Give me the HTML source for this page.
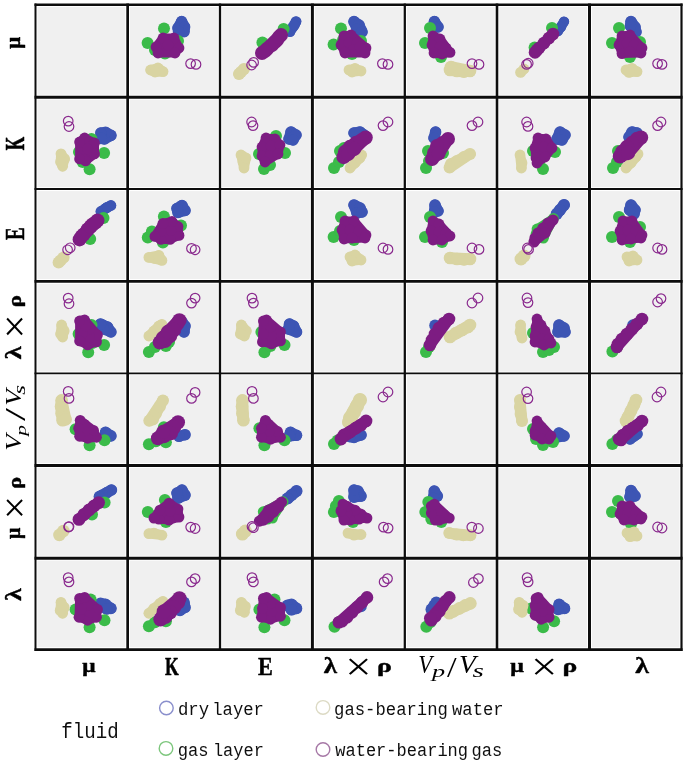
<!DOCTYPE html>
<html><head><meta charset="utf-8"><style>
html,body{margin:0;padding:0;background:#fff;overflow:hidden;}
svg{display:block;}

</style></head><body>
<svg width="685" height="762" viewBox="0 0 685 762"><defs><filter id="soft" x="0" y="0" width="100%" height="100%" filterUnits="userSpaceOnUse"><feGaussianBlur stdDeviation="0.45"/></filter></defs><g filter="url(#soft)"><rect x="0" y="0" width="685" height="762" fill="#ffffff"/>
<rect x="37.50" y="7.00" width="87.80" height="87.75" fill="#f0f0f0"/>
<rect x="130.00" y="7.00" width="87.85" height="87.75" fill="#f0f0f0"/>
<rect x="222.15" y="7.00" width="87.75" height="87.75" fill="#f0f0f0"/>
<rect x="314.90" y="7.00" width="87.75" height="87.75" fill="#f0f0f0"/>
<rect x="406.95" y="7.00" width="87.75" height="87.75" fill="#f0f0f0"/>
<rect x="499.30" y="7.00" width="87.70" height="87.75" fill="#f0f0f0"/>
<rect x="592.00" y="7.00" width="87.40" height="87.75" fill="#f0f0f0"/>
<rect x="37.50" y="99.65" width="87.80" height="87.45" fill="#f0f0f0"/>
<rect x="130.00" y="99.65" width="87.85" height="87.45" fill="#f0f0f0"/>
<rect x="222.15" y="99.65" width="87.75" height="87.45" fill="#f0f0f0"/>
<rect x="314.90" y="99.65" width="87.75" height="87.45" fill="#f0f0f0"/>
<rect x="406.95" y="99.65" width="87.75" height="87.45" fill="#f0f0f0"/>
<rect x="499.30" y="99.65" width="87.70" height="87.45" fill="#f0f0f0"/>
<rect x="592.00" y="99.65" width="87.40" height="87.45" fill="#f0f0f0"/>
<rect x="37.50" y="191.10" width="87.80" height="87.85" fill="#f0f0f0"/>
<rect x="130.00" y="191.10" width="87.85" height="87.85" fill="#f0f0f0"/>
<rect x="222.15" y="191.10" width="87.75" height="87.85" fill="#f0f0f0"/>
<rect x="314.90" y="191.10" width="87.75" height="87.85" fill="#f0f0f0"/>
<rect x="406.95" y="191.10" width="87.75" height="87.85" fill="#f0f0f0"/>
<rect x="499.30" y="191.10" width="87.70" height="87.85" fill="#f0f0f0"/>
<rect x="592.00" y="191.10" width="87.40" height="87.85" fill="#f0f0f0"/>
<rect x="37.50" y="283.85" width="87.80" height="87.70" fill="#f0f0f0"/>
<rect x="130.00" y="283.85" width="87.85" height="87.70" fill="#f0f0f0"/>
<rect x="222.15" y="283.85" width="87.75" height="87.70" fill="#f0f0f0"/>
<rect x="314.90" y="283.85" width="87.75" height="87.70" fill="#f0f0f0"/>
<rect x="406.95" y="283.85" width="87.75" height="87.70" fill="#f0f0f0"/>
<rect x="499.30" y="283.85" width="87.70" height="87.70" fill="#f0f0f0"/>
<rect x="592.00" y="283.85" width="87.40" height="87.70" fill="#f0f0f0"/>
<rect x="37.50" y="375.25" width="87.80" height="87.85" fill="#f0f0f0"/>
<rect x="130.00" y="375.25" width="87.85" height="87.85" fill="#f0f0f0"/>
<rect x="222.15" y="375.25" width="87.75" height="87.85" fill="#f0f0f0"/>
<rect x="314.90" y="375.25" width="87.75" height="87.85" fill="#f0f0f0"/>
<rect x="406.95" y="375.25" width="87.75" height="87.85" fill="#f0f0f0"/>
<rect x="499.30" y="375.25" width="87.70" height="87.85" fill="#f0f0f0"/>
<rect x="592.00" y="375.25" width="87.40" height="87.85" fill="#f0f0f0"/>
<rect x="37.50" y="467.90" width="87.80" height="87.85" fill="#f0f0f0"/>
<rect x="130.00" y="467.90" width="87.85" height="87.85" fill="#f0f0f0"/>
<rect x="222.15" y="467.90" width="87.75" height="87.85" fill="#f0f0f0"/>
<rect x="314.90" y="467.90" width="87.75" height="87.85" fill="#f0f0f0"/>
<rect x="406.95" y="467.90" width="87.75" height="87.85" fill="#f0f0f0"/>
<rect x="499.30" y="467.90" width="87.70" height="87.85" fill="#f0f0f0"/>
<rect x="592.00" y="467.90" width="87.40" height="87.85" fill="#f0f0f0"/>
<rect x="37.50" y="560.65" width="87.80" height="86.50" fill="#f0f0f0"/>
<rect x="130.00" y="560.65" width="87.85" height="86.50" fill="#f0f0f0"/>
<rect x="222.15" y="560.65" width="87.75" height="86.50" fill="#f0f0f0"/>
<rect x="314.90" y="560.65" width="87.75" height="86.50" fill="#f0f0f0"/>
<rect x="406.95" y="560.65" width="87.75" height="86.50" fill="#f0f0f0"/>
<rect x="499.30" y="560.65" width="87.70" height="86.50" fill="#f0f0f0"/>
<rect x="592.00" y="560.65" width="87.40" height="86.50" fill="#f0f0f0"/>
<defs>
<clipPath id="c01"><rect x="127.7" y="4.8" width="92.3" height="92.4"/></clipPath>
<clipPath id="c02"><rect x="220.0" y="4.8" width="92.4" height="92.4"/></clipPath>
<clipPath id="c03"><rect x="312.4" y="4.8" width="92.4" height="92.4"/></clipPath>
<clipPath id="c04"><rect x="404.8" y="4.8" width="92.2" height="92.4"/></clipPath>
<clipPath id="c05"><rect x="497.0" y="4.8" width="92.5" height="92.4"/></clipPath>
<clipPath id="c06"><rect x="589.5" y="4.8" width="92.0" height="92.4"/></clipPath>
<clipPath id="c10"><rect x="35.5" y="97.2" width="92.2" height="91.9"/></clipPath>
<clipPath id="c12"><rect x="220.0" y="97.2" width="92.4" height="91.9"/></clipPath>
<clipPath id="c13"><rect x="312.4" y="97.2" width="92.4" height="91.9"/></clipPath>
<clipPath id="c14"><rect x="404.8" y="97.2" width="92.2" height="91.9"/></clipPath>
<clipPath id="c15"><rect x="497.0" y="97.2" width="92.5" height="91.9"/></clipPath>
<clipPath id="c16"><rect x="589.5" y="97.2" width="92.0" height="91.9"/></clipPath>
<clipPath id="c20"><rect x="35.5" y="189.1" width="92.2" height="92.3"/></clipPath>
<clipPath id="c21"><rect x="127.7" y="189.1" width="92.3" height="92.3"/></clipPath>
<clipPath id="c23"><rect x="312.4" y="189.1" width="92.4" height="92.3"/></clipPath>
<clipPath id="c24"><rect x="404.8" y="189.1" width="92.2" height="92.3"/></clipPath>
<clipPath id="c25"><rect x="497.0" y="189.1" width="92.5" height="92.3"/></clipPath>
<clipPath id="c26"><rect x="589.5" y="189.1" width="92.0" height="92.3"/></clipPath>
<clipPath id="c30"><rect x="35.5" y="281.4" width="92.2" height="92.0"/></clipPath>
<clipPath id="c31"><rect x="127.7" y="281.4" width="92.3" height="92.0"/></clipPath>
<clipPath id="c32"><rect x="220.0" y="281.4" width="92.4" height="92.0"/></clipPath>
<clipPath id="c34"><rect x="404.8" y="281.4" width="92.2" height="92.0"/></clipPath>
<clipPath id="c35"><rect x="497.0" y="281.4" width="92.5" height="92.0"/></clipPath>
<clipPath id="c36"><rect x="589.5" y="281.4" width="92.0" height="92.0"/></clipPath>
<clipPath id="c40"><rect x="35.5" y="373.4" width="92.2" height="92.1"/></clipPath>
<clipPath id="c41"><rect x="127.7" y="373.4" width="92.3" height="92.1"/></clipPath>
<clipPath id="c42"><rect x="220.0" y="373.4" width="92.4" height="92.1"/></clipPath>
<clipPath id="c43"><rect x="312.4" y="373.4" width="92.4" height="92.1"/></clipPath>
<clipPath id="c45"><rect x="497.0" y="373.4" width="92.5" height="92.1"/></clipPath>
<clipPath id="c46"><rect x="589.5" y="373.4" width="92.0" height="92.1"/></clipPath>
<clipPath id="c50"><rect x="35.5" y="465.5" width="92.2" height="92.7"/></clipPath>
<clipPath id="c51"><rect x="127.7" y="465.5" width="92.3" height="92.7"/></clipPath>
<clipPath id="c52"><rect x="220.0" y="465.5" width="92.4" height="92.7"/></clipPath>
<clipPath id="c53"><rect x="312.4" y="465.5" width="92.4" height="92.7"/></clipPath>
<clipPath id="c54"><rect x="404.8" y="465.5" width="92.2" height="92.7"/></clipPath>
<clipPath id="c56"><rect x="589.5" y="465.5" width="92.0" height="92.7"/></clipPath>
<clipPath id="c60"><rect x="35.5" y="558.2" width="92.2" height="91.4"/></clipPath>
<clipPath id="c61"><rect x="127.7" y="558.2" width="92.3" height="91.4"/></clipPath>
<clipPath id="c62"><rect x="220.0" y="558.2" width="92.4" height="91.4"/></clipPath>
<clipPath id="c63"><rect x="312.4" y="558.2" width="92.4" height="91.4"/></clipPath>
<clipPath id="c64"><rect x="404.8" y="558.2" width="92.2" height="91.4"/></clipPath>
<clipPath id="c65"><rect x="497.0" y="558.2" width="92.5" height="91.4"/></clipPath>
</defs>
<g clip-path="url(#c01)">
<g fill="#3c55b4"><path d="M178.0,28.0 L181.6,21.6 L184.6,27.0 L184.0,31.6 L178.6,31.6 Z" stroke="#3c55b4" stroke-width="11.00" stroke-linejoin="round" stroke-linecap="round"/><circle cx="181.6" cy="21.6" r="5.8"/><circle cx="178.0" cy="28.0" r="5.8"/><circle cx="184.6" cy="27.0" r="5.8"/><circle cx="184.0" cy="31.6" r="5.8"/><circle cx="178.6" cy="31.6" r="5.8"/></g>
<circle cx="164.0" cy="28.4" r="6.0" fill="#3abb4a"/><circle cx="147.6" cy="43.0" r="6.0" fill="#3abb4a"/><circle cx="165.0" cy="53.6" r="6.0" fill="#3abb4a"/><circle cx="178.0" cy="41.0" r="6.0" fill="#3abb4a"/><circle cx="163.0" cy="42.0" r="6.0" fill="#3abb4a"/><circle cx="155.0" cy="50.0" r="6.0" fill="#3abb4a"/>
<g fill="#d9d4a2"><path d="M150.6,70.0 L158.0,68.0 L163.0,71.6 L155.0,72.0 Z" stroke="#d9d4a2" stroke-width="9.80" stroke-linejoin="round" stroke-linecap="round"/><circle cx="150.6" cy="70.0" r="5.4"/><circle cx="158.0" cy="68.0" r="5.4"/><circle cx="163.0" cy="71.6" r="5.4"/><circle cx="155.0" cy="72.0" r="5.4"/></g>
<g fill="#7d1e82"><path d="M156.0,47.0 L163.0,38.0 L174.0,38.0 L179.0,48.0 L175.0,53.0 L158.0,53.0 Z" stroke="#7d1e82" stroke-width="9.00" stroke-linejoin="round" stroke-linecap="round"/><circle cx="163.0" cy="38.0" r="5.4"/><circle cx="174.0" cy="38.0" r="5.4"/><circle cx="156.0" cy="47.0" r="5.4"/><circle cx="168.0" cy="45.0" r="5.4"/><circle cx="179.0" cy="48.0" r="5.4"/><circle cx="158.0" cy="53.0" r="5.4"/><circle cx="175.0" cy="53.0" r="5.4"/></g>
<g fill="none" stroke="#8a2a8e" stroke-width="1.2"><circle cx="190.6" cy="63.6" r="4.8"/><circle cx="196.0" cy="64.4" r="4.8"/></g>
</g>
<g clip-path="url(#c02)">
<g fill="#3c55b4"><path d="M290.0,31.6 L296.0,21.6 L294.4,25.0 Z" stroke="#3c55b4" stroke-width="10.20" stroke-linejoin="round" stroke-linecap="round"/><circle cx="296.0" cy="21.6" r="5.4"/><circle cx="293.0" cy="27.0" r="5.4"/><circle cx="290.0" cy="31.6" r="5.4"/><circle cx="294.4" cy="25.0" r="5.4"/></g>
<circle cx="283.6" cy="29.0" r="6.0" fill="#3abb4a"/><circle cx="262.4" cy="42.4" r="6.0" fill="#3abb4a"/>
<g fill="#d9d4a2"><path d="M239.0,74.0 L244.0,69.0" stroke="#d9d4a2" stroke-width="11.00" stroke-linejoin="round" stroke-linecap="round"/><circle cx="241.0" cy="72.0" r="6.0"/><circle cx="244.0" cy="69.0" r="6.0"/><circle cx="239.0" cy="74.0" r="6.0"/></g>
<g fill="#7d1e82"><path d="M262.0,53.0 L281.0,35.0 L277.0,40.0 L272.0,45.0 L265.0,51.0 Z" stroke="#7d1e82" stroke-width="12.20" stroke-linejoin="round" stroke-linecap="round"/><circle cx="262.0" cy="53.0" r="7.0"/><circle cx="267.0" cy="49.0" r="7.0"/><circle cx="272.0" cy="45.0" r="7.0"/><circle cx="277.0" cy="40.0" r="7.0"/><circle cx="281.0" cy="35.0" r="7.0"/><circle cx="265.0" cy="51.0" r="7.0"/><circle cx="275.0" cy="42.0" r="7.0"/><circle cx="279.0" cy="37.0" r="7.0"/></g>
<g fill="none" stroke="#8a2a8e" stroke-width="1.2"><circle cx="251.6" cy="65.0" r="4.8"/><circle cx="253.6" cy="62.4" r="4.8"/></g>
</g>
<g clip-path="url(#c03)">
<g fill="#3c55b4"><path d="M354.0,21.6 L359.0,25.0 L362.0,32.0 L357.0,29.0 Z" stroke="#3c55b4" stroke-width="11.00" stroke-linejoin="round" stroke-linecap="round"/><circle cx="354.0" cy="21.6" r="5.8"/><circle cx="359.0" cy="25.0" r="5.8"/><circle cx="361.0" cy="30.0" r="5.8"/><circle cx="357.0" cy="29.0" r="5.8"/><circle cx="362.0" cy="32.0" r="5.8"/></g>
<circle cx="341.0" cy="28.4" r="6.0" fill="#3abb4a"/><circle cx="333.6" cy="44.4" r="6.0" fill="#3abb4a"/><circle cx="352.0" cy="54.0" r="6.0" fill="#3abb4a"/><circle cx="343.0" cy="40.0" r="6.0" fill="#3abb4a"/><circle cx="361.0" cy="41.0" r="6.0" fill="#3abb4a"/>
<g fill="#d9d4a2"><path d="M349.0,70.0 L355.0,68.4 L361.0,71.0 L352.0,72.0 Z" stroke="#d9d4a2" stroke-width="9.80" stroke-linejoin="round" stroke-linecap="round"/><circle cx="349.0" cy="70.0" r="5.4"/><circle cx="355.0" cy="68.4" r="5.4"/><circle cx="361.0" cy="71.0" r="5.4"/><circle cx="352.0" cy="72.0" r="5.4"/></g>
<g fill="#7d1e82"><path d="M341.0,45.0 L344.0,36.0 L351.0,35.0 L366.0,48.0 L365.0,53.0 L345.0,53.0 Z" stroke="#7d1e82" stroke-width="9.00" stroke-linejoin="round" stroke-linecap="round"/><circle cx="344.0" cy="36.0" r="5.4"/><circle cx="351.0" cy="35.0" r="5.4"/><circle cx="341.0" cy="45.0" r="5.4"/><circle cx="349.0" cy="43.0" r="5.4"/><circle cx="357.0" cy="43.0" r="5.4"/><circle cx="345.0" cy="52.0" r="5.4"/><circle cx="353.0" cy="50.0" r="5.4"/><circle cx="365.0" cy="51.0" r="5.4"/><circle cx="366.0" cy="48.0" r="5.4"/><circle cx="360.0" cy="47.0" r="5.4"/><circle cx="365.0" cy="53.0" r="5.4"/><circle cx="345.0" cy="53.0" r="5.4"/></g>
<g fill="none" stroke="#8a2a8e" stroke-width="1.2"><circle cx="382.4" cy="63.6" r="4.8"/><circle cx="388.0" cy="64.4" r="4.8"/></g>
</g>
<g clip-path="url(#c04)">
<g fill="#3c55b4"><path d="M434.4,21.6 L438.0,27.0 L434.4,27.0 Z" stroke="#3c55b4" stroke-width="11.00" stroke-linejoin="round" stroke-linecap="round"/><circle cx="434.4" cy="21.6" r="5.8"/><circle cx="438.0" cy="27.0" r="5.8"/><circle cx="434.4" cy="27.0" r="5.8"/></g>
<circle cx="430.0" cy="28.0" r="6.0" fill="#3abb4a"/><circle cx="425.0" cy="43.0" r="6.0" fill="#3abb4a"/><circle cx="441.0" cy="57.0" r="6.0" fill="#3abb4a"/>
<g fill="#d9d4a2"><path d="M450.0,70.0 L451.0,67.0 L470.0,71.0 L464.0,71.6 L457.0,71.0 Z" stroke="#d9d4a2" stroke-width="11.60" stroke-linejoin="round" stroke-linecap="round"/><circle cx="450.0" cy="70.0" r="6.3"/><circle cx="457.0" cy="71.0" r="6.3"/><circle cx="464.0" cy="71.6" r="6.3"/><circle cx="470.0" cy="71.0" r="6.3"/><circle cx="451.0" cy="67.0" r="6.3"/></g>
<g fill="#7d1e82"><path d="M432.0,45.0 L433.0,36.0 L440.0,39.0 L450.0,52.4 L442.0,54.0 L434.0,53.0 Z" stroke="#7d1e82" stroke-width="9.00" stroke-linejoin="round" stroke-linecap="round"/><circle cx="433.0" cy="36.0" r="5.4"/><circle cx="440.0" cy="39.0" r="5.4"/><circle cx="432.0" cy="45.0" r="5.4"/><circle cx="440.0" cy="47.0" r="5.4"/><circle cx="446.0" cy="48.0" r="5.4"/><circle cx="450.0" cy="52.4" r="5.4"/><circle cx="434.0" cy="53.0" r="5.4"/><circle cx="442.0" cy="54.0" r="5.4"/></g>
<g fill="none" stroke="#8a2a8e" stroke-width="1.2"><circle cx="472.0" cy="63.6" r="4.8"/><circle cx="479.0" cy="64.4" r="4.8"/></g>
</g>
<g clip-path="url(#c05)">
<g fill="#3c55b4"><path d="M558.0,31.0 L564.0,21.6 L561.0,27.0 Z" stroke="#3c55b4" stroke-width="9.80" stroke-linejoin="round" stroke-linecap="round"/><circle cx="564.0" cy="21.6" r="5.2"/><circle cx="561.0" cy="27.0" r="5.2"/><circle cx="558.0" cy="31.0" r="5.2"/></g>
<circle cx="552.0" cy="28.0" r="6.0" fill="#3abb4a"/><circle cx="534.6" cy="47.6" r="6.0" fill="#3abb4a"/>
<g fill="#d9d4a2"><path d="M520.6,72.4 L524.0,69.0" stroke="#d9d4a2" stroke-width="9.80" stroke-linejoin="round" stroke-linecap="round"/><circle cx="520.6" cy="72.4" r="5.4"/><circle cx="524.0" cy="69.0" r="5.4"/></g>
<g fill="#7d1e82"><path d="M535.0,52.4 L537.0,50.0 L553.0,34.0 Z" stroke="#7d1e82" stroke-width="10.80" stroke-linejoin="round" stroke-linecap="round"/><circle cx="535.0" cy="52.4" r="6.3"/><circle cx="539.0" cy="48.0" r="6.3"/><circle cx="544.0" cy="43.0" r="6.3"/><circle cx="549.0" cy="38.0" r="6.3"/><circle cx="553.0" cy="34.0" r="6.3"/><circle cx="537.0" cy="50.0" r="6.3"/></g>
<g fill="none" stroke="#8a2a8e" stroke-width="1.2"><circle cx="526.6" cy="64.4" r="4.8"/><circle cx="528.2" cy="63.2" r="4.8"/></g>
</g>
<g clip-path="url(#c06)">
<g fill="#3c55b4"><path d="M630.4,26.0 L631.0,21.6 L635.0,27.0 L636.0,32.0 Z" stroke="#3c55b4" stroke-width="11.00" stroke-linejoin="round" stroke-linecap="round"/><circle cx="631.0" cy="21.6" r="5.8"/><circle cx="635.0" cy="27.0" r="5.8"/><circle cx="636.0" cy="32.0" r="5.8"/><circle cx="630.4" cy="26.0" r="5.8"/></g>
<circle cx="619.0" cy="28.0" r="6.0" fill="#3abb4a"/><circle cx="612.0" cy="43.0" r="6.0" fill="#3abb4a"/><circle cx="630.0" cy="57.0" r="6.0" fill="#3abb4a"/><circle cx="640.0" cy="42.0" r="6.0" fill="#3abb4a"/>
<g fill="#d9d4a2"><path d="M626.0,70.0 L632.0,68.4 L637.0,71.6 L629.0,72.4 Z" stroke="#d9d4a2" stroke-width="9.80" stroke-linejoin="round" stroke-linecap="round"/><circle cx="626.0" cy="70.0" r="5.4"/><circle cx="632.0" cy="68.4" r="5.4"/><circle cx="637.0" cy="71.6" r="5.4"/><circle cx="629.0" cy="72.4" r="5.4"/></g>
<g fill="#7d1e82"><path d="M619.0,45.0 L622.0,36.0 L630.0,35.0 L642.0,48.0 L641.0,53.0 L622.0,53.6 Z" stroke="#7d1e82" stroke-width="9.00" stroke-linejoin="round" stroke-linecap="round"/><circle cx="622.0" cy="36.0" r="5.4"/><circle cx="630.0" cy="35.0" r="5.4"/><circle cx="619.0" cy="45.0" r="5.4"/><circle cx="627.0" cy="43.0" r="5.4"/><circle cx="634.0" cy="45.0" r="5.4"/><circle cx="622.0" cy="53.6" r="5.4"/><circle cx="630.0" cy="51.6" r="5.4"/><circle cx="641.0" cy="53.0" r="5.4"/><circle cx="642.0" cy="48.0" r="5.4"/></g>
<g fill="none" stroke="#8a2a8e" stroke-width="1.2"><circle cx="657.6" cy="63.6" r="4.8"/><circle cx="662.0" cy="64.4" r="4.8"/></g>
</g>
<g clip-path="url(#c10)">
<g fill="#3c55b4"><path d="M100.9,133.0 L105.5,132.4 L110.9,135.4 L104.5,139.0 L100.9,138.4 Z" stroke="#3c55b4" stroke-width="11.00" stroke-linejoin="round" stroke-linecap="round"/><circle cx="110.9" cy="135.4" r="5.8"/><circle cx="104.5" cy="139.0" r="5.8"/><circle cx="105.5" cy="132.4" r="5.8"/><circle cx="100.9" cy="133.0" r="5.8"/><circle cx="100.9" cy="138.4" r="5.8"/></g>
<circle cx="104.1" cy="152.9" r="6.0" fill="#3abb4a"/><circle cx="89.6" cy="169.2" r="6.0" fill="#3abb4a"/><circle cx="79.0" cy="151.9" r="6.0" fill="#3abb4a"/><circle cx="91.5" cy="139.0" r="6.0" fill="#3abb4a"/><circle cx="90.6" cy="153.9" r="6.0" fill="#3abb4a"/><circle cx="82.6" cy="161.9" r="6.0" fill="#3abb4a"/>
<g fill="#d9d4a2"><path d="M60.6,161.9 L61.0,153.9 L64.6,158.9 L62.6,166.3 Z" stroke="#d9d4a2" stroke-width="9.80" stroke-linejoin="round" stroke-linecap="round"/><circle cx="62.6" cy="166.3" r="5.4"/><circle cx="64.6" cy="158.9" r="5.4"/><circle cx="61.0" cy="153.9" r="5.4"/><circle cx="60.6" cy="161.9" r="5.4"/></g>
<g fill="#7d1e82"><path d="M79.6,142.0 L84.6,138.0 L94.5,143.0 L94.5,153.9 L85.6,160.9 L79.6,158.9 Z" stroke="#7d1e82" stroke-width="9.00" stroke-linejoin="round" stroke-linecap="round"/><circle cx="94.5" cy="153.9" r="5.4"/><circle cx="94.5" cy="143.0" r="5.4"/><circle cx="85.6" cy="160.9" r="5.4"/><circle cx="87.6" cy="148.9" r="5.4"/><circle cx="84.6" cy="138.0" r="5.4"/><circle cx="79.6" cy="158.9" r="5.4"/><circle cx="79.6" cy="142.0" r="5.4"/></g>
<g fill="none" stroke="#8a2a8e" stroke-width="1.2"><circle cx="69.0" cy="126.5" r="4.8"/><circle cx="68.2" cy="121.1" r="4.8"/></g>
</g>
<g clip-path="url(#c12)">
<g fill="#3c55b4"><path d="M289.0,139.0 L291.0,132.0 L296.0,135.0 L293.0,140.0 Z" stroke="#3c55b4" stroke-width="11.00" stroke-linejoin="round" stroke-linecap="round"/><circle cx="291.0" cy="132.0" r="5.8"/><circle cx="296.0" cy="135.0" r="5.8"/><circle cx="289.0" cy="139.0" r="5.8"/><circle cx="293.0" cy="140.0" r="5.8"/></g>
<circle cx="285.0" cy="153.0" r="6.0" fill="#3abb4a"/><circle cx="264.0" cy="169.0" r="6.0" fill="#3abb4a"/><circle cx="259.0" cy="154.0" r="6.0" fill="#3abb4a"/><circle cx="270.0" cy="165.0" r="6.0" fill="#3abb4a"/><circle cx="276.0" cy="136.0" r="6.0" fill="#3abb4a"/>
<g fill="#d9d4a2"><path d="M241.0,155.0 L246.0,158.0 L244.0,168.0 Z" stroke="#d9d4a2" stroke-width="9.80" stroke-linejoin="round" stroke-linecap="round"/><circle cx="241.0" cy="155.0" r="5.4"/><circle cx="243.0" cy="162.0" r="5.4"/><circle cx="244.0" cy="168.0" r="5.4"/><circle cx="246.0" cy="158.0" r="5.4"/></g>
<g fill="#7d1e82"><path d="M262.0,147.0 L266.0,138.0 L275.0,139.0 L280.0,145.0 L278.0,154.0 L265.0,162.0 L262.0,156.0 Z" stroke="#7d1e82" stroke-width="9.00" stroke-linejoin="round" stroke-linecap="round"/><circle cx="266.0" cy="138.0" r="5.4"/><circle cx="275.0" cy="139.0" r="5.4"/><circle cx="262.0" cy="147.0" r="5.4"/><circle cx="271.0" cy="146.0" r="5.4"/><circle cx="280.0" cy="145.0" r="5.4"/><circle cx="262.0" cy="156.0" r="5.4"/><circle cx="270.0" cy="156.0" r="5.4"/><circle cx="278.0" cy="154.0" r="5.4"/><circle cx="265.0" cy="162.0" r="5.4"/></g>
<g fill="none" stroke="#8a2a8e" stroke-width="1.2"><circle cx="251.6" cy="122.0" r="4.8"/><circle cx="253.0" cy="125.6" r="4.8"/></g>
</g>
<g clip-path="url(#c13)">
<g fill="#3c55b4"><path d="M354.0,133.0 L360.0,132.0 L364.0,135.0 Z" stroke="#3c55b4" stroke-width="11.00" stroke-linejoin="round" stroke-linecap="round"/><circle cx="354.0" cy="133.0" r="5.8"/><circle cx="360.0" cy="132.0" r="5.8"/><circle cx="364.0" cy="135.0" r="5.8"/></g>
<circle cx="334.0" cy="168.0" r="6.0" fill="#3abb4a"/><circle cx="339.0" cy="162.0" r="6.0" fill="#3abb4a"/><circle cx="340.0" cy="151.0" r="6.0" fill="#3abb4a"/><circle cx="344.0" cy="148.0" r="6.0" fill="#3abb4a"/>
<g fill="#d9d4a2"><path d="M350.0,168.0 L361.6,155.0 L360.0,158.0 Z" stroke="#d9d4a2" stroke-width="9.80" stroke-linejoin="round" stroke-linecap="round"/><circle cx="350.0" cy="168.0" r="5.4"/><circle cx="355.0" cy="163.0" r="5.4"/><circle cx="360.0" cy="158.0" r="5.4"/><circle cx="361.6" cy="155.0" r="5.4"/></g>
<g fill="#7d1e82"><path d="M343.6,157.0 L345.0,152.0 L350.0,147.0 L356.0,143.0 L365.6,137.6 L354.0,149.0 L348.0,154.0 Z" stroke="#7d1e82" stroke-width="12.60" stroke-linejoin="round" stroke-linecap="round"/><circle cx="365.6" cy="137.6" r="7.2"/><circle cx="362.0" cy="140.0" r="7.2"/><circle cx="356.0" cy="143.0" r="7.2"/><circle cx="350.0" cy="147.0" r="7.2"/><circle cx="345.0" cy="152.0" r="7.2"/><circle cx="343.6" cy="157.0" r="7.2"/><circle cx="348.0" cy="154.0" r="7.2"/><circle cx="354.0" cy="149.0" r="7.2"/></g>
<g fill="none" stroke="#8a2a8e" stroke-width="1.2"><circle cx="383.0" cy="125.6" r="4.8"/><circle cx="388.0" cy="122.0" r="4.8"/></g>
</g>
<g clip-path="url(#c14)">
<g fill="#3c55b4"><path d="M434.0,138.0 L435.6,132.0" stroke="#3c55b4" stroke-width="11.00" stroke-linejoin="round" stroke-linecap="round"/><circle cx="435.6" cy="132.0" r="5.8"/><circle cx="434.0" cy="138.0" r="5.8"/></g>
<circle cx="426.0" cy="168.0" r="6.0" fill="#3abb4a"/><circle cx="429.0" cy="161.0" r="6.0" fill="#3abb4a"/><circle cx="428.0" cy="151.0" r="6.0" fill="#3abb4a"/><circle cx="443.0" cy="153.0" r="6.0" fill="#3abb4a"/>
<g fill="#d9d4a2"><path d="M449.6,167.6 L451.0,164.0 L464.0,157.0 L470.0,154.0 Z" stroke="#d9d4a2" stroke-width="11.00" stroke-linejoin="round" stroke-linecap="round"/><circle cx="451.0" cy="164.0" r="6.0"/><circle cx="457.0" cy="161.0" r="6.0"/><circle cx="464.0" cy="157.0" r="6.0"/><circle cx="470.0" cy="154.0" r="6.0"/><circle cx="449.6" cy="167.6" r="6.0"/></g>
<g fill="#7d1e82"><path d="M432.0,159.0 L434.0,153.0 L437.0,146.0 L448.0,139.0 L438.6,153.6 Z" stroke="#7d1e82" stroke-width="12.20" stroke-linejoin="round" stroke-linecap="round"/><circle cx="448.0" cy="139.0" r="7.0"/><circle cx="443.0" cy="143.0" r="7.0"/><circle cx="437.0" cy="146.0" r="7.0"/><circle cx="434.0" cy="153.0" r="7.0"/><circle cx="432.0" cy="159.0" r="7.0"/><circle cx="438.6" cy="153.6" r="7.0"/></g>
<g fill="none" stroke="#8a2a8e" stroke-width="1.2"><circle cx="472.0" cy="125.6" r="4.8"/><circle cx="478.0" cy="122.0" r="4.8"/></g>
</g>
<g clip-path="url(#c15)">
<g fill="#3c55b4"><path d="M557.0,139.0 L560.0,132.0 L565.0,135.0 L562.0,140.0 Z" stroke="#3c55b4" stroke-width="11.00" stroke-linejoin="round" stroke-linecap="round"/><circle cx="560.0" cy="132.0" r="5.8"/><circle cx="565.0" cy="135.0" r="5.8"/><circle cx="557.0" cy="139.0" r="5.8"/><circle cx="562.0" cy="140.0" r="5.8"/></g>
<circle cx="543.0" cy="169.0" r="6.0" fill="#3abb4a"/><circle cx="555.0" cy="152.0" r="6.0" fill="#3abb4a"/><circle cx="533.0" cy="151.0" r="6.0" fill="#3abb4a"/><circle cx="539.0" cy="162.0" r="6.0" fill="#3abb4a"/>
<g fill="#d9d4a2"><path d="M520.0,155.0 L522.0,163.0 L521.4,168.0 Z" stroke="#d9d4a2" stroke-width="9.80" stroke-linejoin="round" stroke-linecap="round"/><circle cx="520.0" cy="155.0" r="5.4"/><circle cx="522.0" cy="163.0" r="5.4"/><circle cx="521.4" cy="168.0" r="5.4"/></g>
<g fill="#7d1e82"><path d="M535.0,148.0 L538.0,138.0 L546.0,139.0 L552.0,148.0 L545.0,157.0 L537.0,163.0 L536.0,158.0 Z" stroke="#7d1e82" stroke-width="9.00" stroke-linejoin="round" stroke-linecap="round"/><circle cx="538.0" cy="138.0" r="5.4"/><circle cx="546.0" cy="139.0" r="5.4"/><circle cx="535.0" cy="148.0" r="5.4"/><circle cx="544.0" cy="147.0" r="5.4"/><circle cx="552.0" cy="148.0" r="5.4"/><circle cx="536.0" cy="158.0" r="5.4"/><circle cx="545.0" cy="157.0" r="5.4"/><circle cx="537.0" cy="163.0" r="5.4"/></g>
<g fill="none" stroke="#8a2a8e" stroke-width="1.2"><circle cx="526.6" cy="122.0" r="4.8"/><circle cx="528.0" cy="126.4" r="4.8"/></g>
</g>
<g clip-path="url(#c16)">
<g fill="#3c55b4"><path d="M629.0,137.0 L632.0,132.0 L637.0,133.0 Z" stroke="#3c55b4" stroke-width="11.00" stroke-linejoin="round" stroke-linecap="round"/><circle cx="632.0" cy="132.0" r="5.8"/><circle cx="629.0" cy="137.0" r="5.8"/><circle cx="637.0" cy="133.0" r="5.8"/></g>
<circle cx="613.0" cy="168.0" r="6.0" fill="#3abb4a"/><circle cx="617.0" cy="162.0" r="6.0" fill="#3abb4a"/><circle cx="618.0" cy="151.0" r="6.0" fill="#3abb4a"/>
<g fill="#d9d4a2"><path d="M626.0,168.0 L638.0,154.0 L636.0,157.0 L631.0,163.0 Z" stroke="#d9d4a2" stroke-width="9.80" stroke-linejoin="round" stroke-linecap="round"/><circle cx="626.0" cy="168.0" r="5.4"/><circle cx="631.0" cy="163.0" r="5.4"/><circle cx="636.0" cy="157.0" r="5.4"/><circle cx="638.0" cy="154.0" r="5.4"/></g>
<g fill="#7d1e82"><path d="M620.0,156.4 L622.4,151.6 L627.0,147.0 L637.0,139.0 L641.0,137.6 L628.0,153.0 Z" stroke="#7d1e82" stroke-width="12.60" stroke-linejoin="round" stroke-linecap="round"/><circle cx="641.0" cy="137.6" r="7.2"/><circle cx="637.0" cy="139.0" r="7.2"/><circle cx="632.0" cy="143.0" r="7.2"/><circle cx="627.0" cy="147.0" r="7.2"/><circle cx="622.4" cy="151.6" r="7.2"/><circle cx="620.0" cy="156.4" r="7.2"/><circle cx="628.0" cy="153.0" r="7.2"/></g>
<g fill="none" stroke="#8a2a8e" stroke-width="1.2"><circle cx="657.6" cy="125.6" r="4.8"/><circle cx="661.0" cy="122.0" r="4.8"/></g>
</g>
<g clip-path="url(#c20)">
<g fill="#3c55b4"><path d="M100.9,211.5 L107.5,207.1 L110.9,205.5 Z" stroke="#3c55b4" stroke-width="10.20" stroke-linejoin="round" stroke-linecap="round"/><circle cx="110.9" cy="205.5" r="5.4"/><circle cx="105.5" cy="208.5" r="5.4"/><circle cx="100.9" cy="211.5" r="5.4"/><circle cx="107.5" cy="207.1" r="5.4"/></g>
<circle cx="103.5" cy="217.9" r="6.0" fill="#3abb4a"/><circle cx="90.2" cy="239.0" r="6.0" fill="#3abb4a"/>
<g fill="#d9d4a2"><path d="M58.6,262.4 L60.6,260.4 L63.6,257.4 Z" stroke="#d9d4a2" stroke-width="11.00" stroke-linejoin="round" stroke-linecap="round"/><circle cx="60.6" cy="260.4" r="6.0"/><circle cx="63.6" cy="257.4" r="6.0"/><circle cx="58.6" cy="262.4" r="6.0"/></g>
<g fill="#7d1e82"><path d="M79.6,239.4 L81.6,236.4 L87.6,229.5 L90.6,226.5 L92.5,224.5 L97.5,220.5 Z" stroke="#7d1e82" stroke-width="12.20" stroke-linejoin="round" stroke-linecap="round"/><circle cx="79.6" cy="239.4" r="7.0"/><circle cx="83.6" cy="234.5" r="7.0"/><circle cx="87.6" cy="229.5" r="7.0"/><circle cx="92.5" cy="224.5" r="7.0"/><circle cx="97.5" cy="220.5" r="7.0"/><circle cx="81.6" cy="236.4" r="7.0"/><circle cx="90.6" cy="226.5" r="7.0"/><circle cx="95.5" cy="222.5" r="7.0"/></g>
<g fill="none" stroke="#8a2a8e" stroke-width="1.2"><circle cx="67.6" cy="249.8" r="4.8"/><circle cx="70.2" cy="247.8" r="4.8"/></g>
</g>
<g clip-path="url(#c21)">
<g fill="#3c55b4"><path d="M177.0,208.5 L182.0,205.5 L185.0,210.5 L178.0,212.5 Z" stroke="#3c55b4" stroke-width="11.00" stroke-linejoin="round" stroke-linecap="round"/><circle cx="185.0" cy="210.5" r="5.8"/><circle cx="182.0" cy="205.5" r="5.8"/><circle cx="178.0" cy="212.5" r="5.8"/><circle cx="177.0" cy="208.5" r="5.8"/></g>
<circle cx="163.9" cy="216.5" r="6.0" fill="#3abb4a"/><circle cx="147.8" cy="237.4" r="6.0" fill="#3abb4a"/><circle cx="162.9" cy="242.4" r="6.0" fill="#3abb4a"/><circle cx="151.9" cy="231.5" r="6.0" fill="#3abb4a"/><circle cx="181.0" cy="225.5" r="6.0" fill="#3abb4a"/>
<g fill="#d9d4a2"><path d="M148.9,257.4 L158.9,255.4 L161.9,260.4 Z" stroke="#d9d4a2" stroke-width="9.80" stroke-linejoin="round" stroke-linecap="round"/><circle cx="161.9" cy="260.4" r="5.4"/><circle cx="154.9" cy="258.4" r="5.4"/><circle cx="148.9" cy="257.4" r="5.4"/><circle cx="158.9" cy="255.4" r="5.4"/></g>
<g fill="#7d1e82"><path d="M154.9,236.4 L162.9,223.5 L172.0,221.5 L178.0,226.5 L179.0,235.4 L170.0,239.4 L160.9,239.4 Z" stroke="#7d1e82" stroke-width="9.00" stroke-linejoin="round" stroke-linecap="round"/><circle cx="179.0" cy="235.4" r="5.4"/><circle cx="178.0" cy="226.5" r="5.4"/><circle cx="170.0" cy="239.4" r="5.4"/><circle cx="171.0" cy="230.5" r="5.4"/><circle cx="172.0" cy="221.5" r="5.4"/><circle cx="160.9" cy="239.4" r="5.4"/><circle cx="160.9" cy="231.5" r="5.4"/><circle cx="162.9" cy="223.5" r="5.4"/><circle cx="154.9" cy="236.4" r="5.4"/></g>
<g fill="none" stroke="#8a2a8e" stroke-width="1.2"><circle cx="195.1" cy="249.8" r="4.8"/><circle cx="191.5" cy="248.4" r="4.8"/></g>
</g>
<g clip-path="url(#c23)">
<g fill="#3c55b4"><path d="M354.0,205.0 L360.0,208.0 L362.0,212.0 L357.0,213.0 Z" stroke="#3c55b4" stroke-width="11.00" stroke-linejoin="round" stroke-linecap="round"/><circle cx="354.0" cy="205.0" r="5.8"/><circle cx="360.0" cy="208.0" r="5.8"/><circle cx="357.0" cy="213.0" r="5.8"/><circle cx="362.0" cy="212.0" r="5.8"/></g>
<circle cx="341.0" cy="217.0" r="6.0" fill="#3abb4a"/><circle cx="333.6" cy="237.0" r="6.0" fill="#3abb4a"/><circle cx="354.0" cy="240.0" r="6.0" fill="#3abb4a"/><circle cx="340.0" cy="231.0" r="6.0" fill="#3abb4a"/>
<g fill="#d9d4a2"><path d="M350.0,257.0 L355.0,255.0 L361.0,260.0 L352.0,261.0 Z" stroke="#d9d4a2" stroke-width="9.80" stroke-linejoin="round" stroke-linecap="round"/><circle cx="350.0" cy="257.0" r="5.4"/><circle cx="355.0" cy="255.0" r="5.4"/><circle cx="361.0" cy="260.0" r="5.4"/><circle cx="352.0" cy="261.0" r="5.4"/></g>
<g fill="#7d1e82"><path d="M342.0,230.0 L345.0,221.0 L354.0,221.0 L366.0,235.0 L365.0,238.0 L344.0,239.0 Z" stroke="#7d1e82" stroke-width="9.00" stroke-linejoin="round" stroke-linecap="round"/><circle cx="345.0" cy="221.0" r="5.4"/><circle cx="354.0" cy="221.0" r="5.4"/><circle cx="342.0" cy="230.0" r="5.4"/><circle cx="350.0" cy="230.0" r="5.4"/><circle cx="359.0" cy="231.0" r="5.4"/><circle cx="366.0" cy="235.0" r="5.4"/><circle cx="344.0" cy="239.0" r="5.4"/><circle cx="352.0" cy="238.0" r="5.4"/><circle cx="365.0" cy="238.0" r="5.4"/></g>
<g fill="none" stroke="#8a2a8e" stroke-width="1.2"><circle cx="383.0" cy="248.0" r="4.8"/><circle cx="388.0" cy="249.4" r="4.8"/></g>
</g>
<g clip-path="url(#c24)">
<g fill="#3c55b4"><path d="M434.4,212.0 L435.0,205.0 L438.0,211.0 Z" stroke="#3c55b4" stroke-width="11.00" stroke-linejoin="round" stroke-linecap="round"/><circle cx="435.0" cy="205.0" r="5.8"/><circle cx="438.0" cy="211.0" r="5.8"/><circle cx="434.4" cy="212.0" r="5.8"/></g>
<circle cx="430.0" cy="217.0" r="6.0" fill="#3abb4a"/><circle cx="425.0" cy="237.0" r="6.0" fill="#3abb4a"/><circle cx="442.0" cy="242.0" r="6.0" fill="#3abb4a"/>
<g fill="#d9d4a2"><path d="M450.0,258.0 L470.0,259.0 L464.0,259.4 L457.0,259.0 Z" stroke="#d9d4a2" stroke-width="11.60" stroke-linejoin="round" stroke-linecap="round"/><circle cx="450.0" cy="258.0" r="6.3"/><circle cx="457.0" cy="259.0" r="6.3"/><circle cx="464.0" cy="259.4" r="6.3"/><circle cx="470.0" cy="259.0" r="6.3"/></g>
<g fill="#7d1e82"><path d="M431.0,231.0 L433.0,221.0 L439.0,224.0 L450.0,236.0 L442.0,240.0 L433.0,240.0 Z" stroke="#7d1e82" stroke-width="9.00" stroke-linejoin="round" stroke-linecap="round"/><circle cx="433.0" cy="221.0" r="5.4"/><circle cx="439.0" cy="224.0" r="5.4"/><circle cx="431.0" cy="231.0" r="5.4"/><circle cx="439.0" cy="232.0" r="5.4"/><circle cx="446.0" cy="233.0" r="5.4"/><circle cx="450.0" cy="236.0" r="5.4"/><circle cx="433.0" cy="240.0" r="5.4"/><circle cx="442.0" cy="240.0" r="5.4"/></g>
<g fill="none" stroke="#8a2a8e" stroke-width="1.2"><circle cx="472.0" cy="248.0" r="4.8"/><circle cx="479.0" cy="249.4" r="4.8"/></g>
</g>
<g clip-path="url(#c25)">
<g fill="#3c55b4"><path d="M556.6,214.0 L564.0,205.0 L560.0,210.0 Z" stroke="#3c55b4" stroke-width="11.40" stroke-linejoin="round" stroke-linecap="round"/><circle cx="564.0" cy="205.0" r="6.0"/><circle cx="560.0" cy="210.0" r="6.0"/><circle cx="556.6" cy="214.0" r="6.0"/></g>
<g fill="#3abb4a"><path d="M536.0,234.0 L537.0,229.0 L553.4,218.4 L543.4,238.2 Z" stroke="#3abb4a" stroke-width="9.00" stroke-linejoin="round" stroke-linecap="round"/><circle cx="553.4" cy="218.4" r="5.4"/><circle cx="537.0" cy="229.0" r="5.4"/><circle cx="543.4" cy="238.2" r="5.4"/><circle cx="536.0" cy="234.0" r="5.4"/></g>
<g fill="#d9d4a2"><path d="M521.0,259.0 L524.0,256.0" stroke="#d9d4a2" stroke-width="12.00" stroke-linejoin="round" stroke-linecap="round"/><circle cx="521.0" cy="259.0" r="6.5"/><circle cx="524.0" cy="256.0" r="6.5"/></g>
<g fill="#7d1e82"><path d="M534.0,242.0 L535.0,238.0 L538.0,233.0 L548.0,223.0 L553.0,220.0 L545.0,233.0 Z" stroke="#7d1e82" stroke-width="9.40" stroke-linejoin="round" stroke-linecap="round"/><circle cx="553.0" cy="220.0" r="5.6"/><circle cx="548.0" cy="223.0" r="5.6"/><circle cx="543.0" cy="228.0" r="5.6"/><circle cx="538.0" cy="233.0" r="5.6"/><circle cx="535.0" cy="238.0" r="5.6"/><circle cx="534.0" cy="242.0" r="5.6"/><circle cx="545.0" cy="233.0" r="5.6"/></g>
<g fill="none" stroke="#8a2a8e" stroke-width="1.2"><circle cx="527.4" cy="248.0" r="4.8"/><circle cx="528.6" cy="249.4" r="4.8"/></g>
</g>
<g clip-path="url(#c26)">
<g fill="#3c55b4"><path d="M629.6,210.0 L631.0,205.0 L635.0,210.0 L634.0,214.0 Z" stroke="#3c55b4" stroke-width="11.00" stroke-linejoin="round" stroke-linecap="round"/><circle cx="631.0" cy="205.0" r="5.8"/><circle cx="635.0" cy="210.0" r="5.8"/><circle cx="634.0" cy="214.0" r="5.8"/><circle cx="629.6" cy="210.0" r="5.8"/></g>
<circle cx="619.0" cy="217.0" r="6.0" fill="#3abb4a"/><circle cx="612.0" cy="237.0" r="6.0" fill="#3abb4a"/><circle cx="630.0" cy="242.0" r="6.0" fill="#3abb4a"/><circle cx="640.0" cy="227.0" r="6.0" fill="#3abb4a"/>
<g fill="#d9d4a2"><path d="M627.0,257.0 L633.0,256.0 L637.0,260.0 L629.0,261.0 Z" stroke="#d9d4a2" stroke-width="9.80" stroke-linejoin="round" stroke-linecap="round"/><circle cx="627.0" cy="257.0" r="5.4"/><circle cx="633.0" cy="256.0" r="5.4"/><circle cx="637.0" cy="260.0" r="5.4"/><circle cx="629.0" cy="261.0" r="5.4"/></g>
<g fill="#7d1e82"><path d="M620.0,231.0 L623.0,221.0 L632.0,221.0 L642.0,235.0 L641.0,238.0 L622.0,240.0 Z" stroke="#7d1e82" stroke-width="9.00" stroke-linejoin="round" stroke-linecap="round"/><circle cx="623.0" cy="221.0" r="5.4"/><circle cx="632.0" cy="221.0" r="5.4"/><circle cx="620.0" cy="231.0" r="5.4"/><circle cx="628.0" cy="230.0" r="5.4"/><circle cx="636.0" cy="231.0" r="5.4"/><circle cx="642.0" cy="235.0" r="5.4"/><circle cx="622.0" cy="240.0" r="5.4"/><circle cx="631.0" cy="239.0" r="5.4"/><circle cx="641.0" cy="238.0" r="5.4"/></g>
<g fill="none" stroke="#8a2a8e" stroke-width="1.2"><circle cx="657.6" cy="248.0" r="4.8"/><circle cx="662.0" cy="249.4" r="4.8"/></g>
</g>
<g clip-path="url(#c30)">
<g fill="#3c55b4"><path d="M100.5,324.0 L107.5,327.0 L110.9,332.0 L103.5,329.0 Z" stroke="#3c55b4" stroke-width="11.00" stroke-linejoin="round" stroke-linecap="round"/><circle cx="110.9" cy="332.0" r="5.8"/><circle cx="107.5" cy="327.0" r="5.8"/><circle cx="102.5" cy="325.0" r="5.8"/><circle cx="103.5" cy="329.0" r="5.8"/><circle cx="100.5" cy="324.0" r="5.8"/></g>
<circle cx="104.1" cy="344.9" r="6.0" fill="#3abb4a"/><circle cx="88.2" cy="352.3" r="6.0" fill="#3abb4a"/><circle cx="78.6" cy="334.0" r="6.0" fill="#3abb4a"/><circle cx="92.5" cy="342.9" r="6.0" fill="#3abb4a"/><circle cx="91.5" cy="325.0" r="6.0" fill="#3abb4a"/>
<g fill="#d9d4a2"><path d="M60.6,334.0 L61.6,325.0 L64.2,331.0 L62.6,337.0 Z" stroke="#d9d4a2" stroke-width="9.80" stroke-linejoin="round" stroke-linecap="round"/><circle cx="62.6" cy="337.0" r="5.4"/><circle cx="64.2" cy="331.0" r="5.4"/><circle cx="61.6" cy="325.0" r="5.4"/><circle cx="60.6" cy="334.0" r="5.4"/></g>
<g fill="#7d1e82"><path d="M79.6,321.0 L84.6,320.0 L97.5,335.0 L96.5,341.9 L87.6,344.9 L79.6,340.9 Z" stroke="#7d1e82" stroke-width="9.00" stroke-linejoin="round" stroke-linecap="round"/><circle cx="96.5" cy="341.9" r="5.4"/><circle cx="97.5" cy="335.0" r="5.4"/><circle cx="87.6" cy="344.9" r="5.4"/><circle cx="89.6" cy="337.0" r="5.4"/><circle cx="89.6" cy="329.0" r="5.4"/><circle cx="80.6" cy="340.9" r="5.4"/><circle cx="82.6" cy="333.0" r="5.4"/><circle cx="81.6" cy="321.0" r="5.4"/><circle cx="84.6" cy="320.0" r="5.4"/><circle cx="85.6" cy="326.0" r="5.4"/><circle cx="79.6" cy="321.0" r="5.4"/><circle cx="79.6" cy="340.9" r="5.4"/></g>
<g fill="none" stroke="#8a2a8e" stroke-width="1.2"><circle cx="69.0" cy="303.7" r="4.8"/><circle cx="68.2" cy="298.1" r="4.8"/></g>
</g>
<g clip-path="url(#c31)">
<g fill="#3c55b4"><path d="M182.0,322.0 L185.0,326.0 L184.0,332.0 Z" stroke="#3c55b4" stroke-width="11.00" stroke-linejoin="round" stroke-linecap="round"/><circle cx="184.0" cy="332.0" r="5.8"/><circle cx="185.0" cy="326.0" r="5.8"/><circle cx="182.0" cy="322.0" r="5.8"/></g>
<circle cx="148.9" cy="351.9" r="6.0" fill="#3abb4a"/><circle cx="154.9" cy="346.9" r="6.0" fill="#3abb4a"/><circle cx="165.9" cy="345.9" r="6.0" fill="#3abb4a"/><circle cx="169.0" cy="341.9" r="6.0" fill="#3abb4a"/>
<g fill="#d9d4a2"><path d="M148.9,336.0 L158.9,326.0 L161.9,324.4 Z" stroke="#d9d4a2" stroke-width="9.80" stroke-linejoin="round" stroke-linecap="round"/><circle cx="148.9" cy="336.0" r="5.4"/><circle cx="153.9" cy="331.0" r="5.4"/><circle cx="158.9" cy="326.0" r="5.4"/><circle cx="161.9" cy="324.4" r="5.4"/></g>
<g fill="#7d1e82"><path d="M159.9,342.3 L162.9,338.0 L167.9,332.0 L179.4,320.4 L174.0,330.0 L170.0,336.0 L164.9,340.9 Z" stroke="#7d1e82" stroke-width="12.60" stroke-linejoin="round" stroke-linecap="round"/><circle cx="179.4" cy="320.4" r="7.2"/><circle cx="177.0" cy="324.0" r="7.2"/><circle cx="174.0" cy="330.0" r="7.2"/><circle cx="170.0" cy="336.0" r="7.2"/><circle cx="164.9" cy="340.9" r="7.2"/><circle cx="159.9" cy="342.3" r="7.2"/><circle cx="162.9" cy="338.0" r="7.2"/><circle cx="167.9" cy="332.0" r="7.2"/></g>
<g fill="none" stroke="#8a2a8e" stroke-width="1.2"><circle cx="191.5" cy="303.1" r="4.8"/><circle cx="195.1" cy="298.1" r="4.8"/></g>
</g>
<g clip-path="url(#c32)">
<g fill="#3c55b4"><path d="M288.5,329.0 L289.5,324.0 L293.5,326.0 L296.5,332.0 Z" stroke="#3c55b4" stroke-width="11.00" stroke-linejoin="round" stroke-linecap="round"/><circle cx="296.5" cy="332.0" r="5.8"/><circle cx="293.5" cy="326.0" r="5.8"/><circle cx="288.5" cy="329.0" r="5.8"/><circle cx="289.5" cy="324.0" r="5.8"/></g>
<circle cx="284.5" cy="344.9" r="6.0" fill="#3abb4a"/><circle cx="264.4" cy="352.3" r="6.0" fill="#3abb4a"/><circle cx="261.4" cy="332.0" r="6.0" fill="#3abb4a"/><circle cx="270.5" cy="345.9" r="6.0" fill="#3abb4a"/>
<g fill="#d9d4a2"><path d="M240.4,334.0 L241.4,325.0 L246.4,331.0 L244.4,336.0 Z" stroke="#d9d4a2" stroke-width="9.80" stroke-linejoin="round" stroke-linecap="round"/><circle cx="244.4" cy="336.0" r="5.4"/><circle cx="246.4" cy="331.0" r="5.4"/><circle cx="241.4" cy="325.0" r="5.4"/><circle cx="240.4" cy="334.0" r="5.4"/></g>
<g fill="#7d1e82"><path d="M262.4,341.9 L263.4,321.0 L266.5,320.0 L280.5,332.0 L280.5,340.9 L271.5,343.9 Z" stroke="#7d1e82" stroke-width="9.00" stroke-linejoin="round" stroke-linecap="round"/><circle cx="280.5" cy="340.9" r="5.4"/><circle cx="280.5" cy="332.0" r="5.4"/><circle cx="271.5" cy="343.9" r="5.4"/><circle cx="271.5" cy="336.0" r="5.4"/><circle cx="270.5" cy="327.0" r="5.4"/><circle cx="266.5" cy="320.0" r="5.4"/><circle cx="262.4" cy="341.9" r="5.4"/><circle cx="263.4" cy="334.0" r="5.4"/><circle cx="263.4" cy="321.0" r="5.4"/></g>
<g fill="none" stroke="#8a2a8e" stroke-width="1.2"><circle cx="253.4" cy="303.1" r="4.8"/><circle cx="252.0" cy="298.1" r="4.8"/></g>
</g>
<g clip-path="url(#c34)">
<circle cx="435.0" cy="325.4" r="5.8" fill="#3c55b4"/>
<circle cx="426.0" cy="352.0" r="6.0" fill="#3abb4a"/><circle cx="429.0" cy="347.0" r="6.0" fill="#3abb4a"/>
<g fill="#d9d4a2"><path d="M450.0,337.0 L456.0,333.0 L470.0,325.0 L468.0,327.0 Z" stroke="#d9d4a2" stroke-width="11.60" stroke-linejoin="round" stroke-linecap="round"/><circle cx="450.0" cy="337.0" r="6.3"/><circle cx="456.0" cy="333.0" r="6.3"/><circle cx="462.0" cy="330.0" r="6.3"/><circle cx="468.0" cy="327.0" r="6.3"/><circle cx="470.0" cy="325.0" r="6.3"/></g>
<g fill="#7d1e82"><path d="M430.0,345.0 L432.0,340.0 L435.0,334.0 L439.0,328.0 L444.0,323.0 L449.0,319.0 Z" stroke="#7d1e82" stroke-width="10.80" stroke-linejoin="round" stroke-linecap="round"/><circle cx="449.0" cy="319.0" r="6.3"/><circle cx="444.0" cy="323.0" r="6.3"/><circle cx="439.0" cy="328.0" r="6.3"/><circle cx="435.0" cy="334.0" r="6.3"/><circle cx="432.0" cy="340.0" r="6.3"/><circle cx="430.0" cy="345.0" r="6.3"/></g>
<g fill="none" stroke="#8a2a8e" stroke-width="1.2"><circle cx="472.0" cy="303.0" r="4.8"/><circle cx="478.0" cy="298.0" r="4.8"/></g>
</g>
<g clip-path="url(#c35)">
<g fill="#3c55b4"><path d="M558.0,332.0 L559.0,325.0 L564.0,328.0 L565.0,332.0 Z" stroke="#3c55b4" stroke-width="11.00" stroke-linejoin="round" stroke-linecap="round"/><circle cx="559.0" cy="325.0" r="5.8"/><circle cx="564.0" cy="328.0" r="5.8"/><circle cx="558.0" cy="332.0" r="5.8"/><circle cx="565.0" cy="332.0" r="5.8"/></g>
<circle cx="543.0" cy="352.0" r="6.0" fill="#3abb4a"/><circle cx="554.0" cy="347.0" r="6.0" fill="#3abb4a"/><circle cx="533.0" cy="333.0" r="6.0" fill="#3abb4a"/><circle cx="549.0" cy="350.0" r="6.0" fill="#3abb4a"/>
<g fill="#d9d4a2"><path d="M520.0,332.0 L520.6,325.0 L522.0,338.0 Z" stroke="#d9d4a2" stroke-width="9.80" stroke-linejoin="round" stroke-linecap="round"/><circle cx="520.6" cy="325.0" r="5.4"/><circle cx="520.0" cy="332.0" r="5.4"/><circle cx="522.0" cy="338.0" r="5.4"/></g>
<g fill="#7d1e82"><path d="M535.0,336.0 L536.0,327.0 L537.0,319.0 L545.0,331.0 L551.0,343.0 L544.0,345.0 L535.0,342.0 Z" stroke="#7d1e82" stroke-width="9.00" stroke-linejoin="round" stroke-linecap="round"/><circle cx="537.0" cy="319.0" r="5.4"/><circle cx="541.0" cy="325.0" r="5.4"/><circle cx="536.0" cy="327.0" r="5.4"/><circle cx="545.0" cy="331.0" r="5.4"/><circle cx="535.0" cy="336.0" r="5.4"/><circle cx="542.0" cy="339.0" r="5.4"/><circle cx="549.0" cy="339.0" r="5.4"/><circle cx="535.0" cy="342.0" r="5.4"/><circle cx="544.0" cy="345.0" r="5.4"/><circle cx="551.0" cy="343.0" r="5.4"/></g>
<g fill="none" stroke="#8a2a8e" stroke-width="1.2"><circle cx="527.0" cy="298.0" r="4.8"/><circle cx="528.0" cy="302.6" r="4.8"/></g>
</g>
<g clip-path="url(#c36)">
<circle cx="633.0" cy="325.0" r="5.8" fill="#3c55b4"/>
<circle cx="612.4" cy="351.4" r="6.0" fill="#3abb4a"/><circle cx="617.0" cy="347.0" r="6.0" fill="#3abb4a"/>
<g fill="#7d1e82"><path d="M617.0,347.0 L618.0,344.0 L622.0,339.0 L642.0,319.0 Z" stroke="#7d1e82" stroke-width="10.80" stroke-linejoin="round" stroke-linecap="round"/><circle cx="642.0" cy="319.0" r="6.3"/><circle cx="637.0" cy="324.0" r="6.3"/><circle cx="632.0" cy="329.0" r="6.3"/><circle cx="627.0" cy="334.0" r="6.3"/><circle cx="622.0" cy="339.0" r="6.3"/><circle cx="618.0" cy="344.0" r="6.3"/><circle cx="617.0" cy="347.0" r="6.3"/></g>
<g fill="none" stroke="#8a2a8e" stroke-width="1.2"><circle cx="657.6" cy="302.0" r="4.8"/><circle cx="661.0" cy="298.6" r="4.8"/></g>
</g>
<g clip-path="url(#c40)">
<g fill="#3c55b4"><path d="M105.5,432.3 L110.9,435.9 L105.5,435.9 Z" stroke="#3c55b4" stroke-width="11.00" stroke-linejoin="round" stroke-linecap="round"/><circle cx="110.9" cy="435.9" r="5.8"/><circle cx="105.5" cy="432.3" r="5.8"/><circle cx="105.5" cy="435.9" r="5.8"/></g>
<circle cx="104.5" cy="440.3" r="6.0" fill="#3abb4a"/><circle cx="89.6" cy="445.3" r="6.0" fill="#3abb4a"/><circle cx="75.6" cy="429.3" r="6.0" fill="#3abb4a"/>
<g fill="#d9d4a2"><path d="M61.0,406.4 L61.6,400.4 L65.6,419.4 L62.6,420.3 L61.6,413.4 Z" stroke="#d9d4a2" stroke-width="11.60" stroke-linejoin="round" stroke-linecap="round"/><circle cx="62.6" cy="420.3" r="6.3"/><circle cx="61.6" cy="413.4" r="6.3"/><circle cx="61.0" cy="406.4" r="6.3"/><circle cx="61.6" cy="400.4" r="6.3"/><circle cx="65.6" cy="419.4" r="6.3"/></g>
<g fill="#7d1e82"><path d="M78.6,428.3 L80.2,420.3 L93.5,430.3 L96.5,437.3 L87.6,438.3 L79.6,436.3 Z" stroke="#7d1e82" stroke-width="9.00" stroke-linejoin="round" stroke-linecap="round"/><circle cx="96.5" cy="437.3" r="5.4"/><circle cx="93.5" cy="430.3" r="5.4"/><circle cx="87.6" cy="438.3" r="5.4"/><circle cx="85.6" cy="430.3" r="5.4"/><circle cx="84.6" cy="424.3" r="5.4"/><circle cx="80.2" cy="420.3" r="5.4"/><circle cx="79.6" cy="436.3" r="5.4"/><circle cx="78.6" cy="428.3" r="5.4"/></g>
<g fill="none" stroke="#8a2a8e" stroke-width="1.2"><circle cx="69.0" cy="398.4" r="4.8"/><circle cx="68.2" cy="391.4" r="4.8"/></g>
</g>
<g clip-path="url(#c41)">
<g fill="#3c55b4"><path d="M179.0,436.3 L185.0,434.7" stroke="#3c55b4" stroke-width="11.00" stroke-linejoin="round" stroke-linecap="round"/><circle cx="185.0" cy="434.7" r="5.8"/><circle cx="179.0" cy="436.3" r="5.8"/></g>
<circle cx="148.9" cy="444.3" r="6.0" fill="#3abb4a"/><circle cx="155.9" cy="441.3" r="6.0" fill="#3abb4a"/><circle cx="165.9" cy="442.3" r="6.0" fill="#3abb4a"/><circle cx="163.9" cy="427.3" r="6.0" fill="#3abb4a"/>
<g fill="#d9d4a2"><path d="M149.3,420.7 L162.9,400.4 L159.9,406.4 L152.9,419.4 Z" stroke="#d9d4a2" stroke-width="11.00" stroke-linejoin="round" stroke-linecap="round"/><circle cx="152.9" cy="419.4" r="6.0"/><circle cx="155.9" cy="413.4" r="6.0"/><circle cx="159.9" cy="406.4" r="6.0"/><circle cx="162.9" cy="400.4" r="6.0"/><circle cx="149.3" cy="420.7" r="6.0"/></g>
<g fill="#7d1e82"><path d="M157.9,438.3 L163.3,431.7 L178.0,422.3 L171.0,433.3 L163.9,436.3 Z" stroke="#7d1e82" stroke-width="12.20" stroke-linejoin="round" stroke-linecap="round"/><circle cx="178.0" cy="422.3" r="7.0"/><circle cx="174.0" cy="427.3" r="7.0"/><circle cx="171.0" cy="433.3" r="7.0"/><circle cx="163.9" cy="436.3" r="7.0"/><circle cx="157.9" cy="438.3" r="7.0"/><circle cx="163.3" cy="431.7" r="7.0"/></g>
<g fill="none" stroke="#8a2a8e" stroke-width="1.2"><circle cx="191.5" cy="398.4" r="4.8"/><circle cx="195.1" cy="392.4" r="4.8"/></g>
</g>
<g clip-path="url(#c42)">
<g fill="#3c55b4"><path d="M289.5,435.9 L290.5,432.3 L296.5,435.3 Z" stroke="#3c55b4" stroke-width="11.00" stroke-linejoin="round" stroke-linecap="round"/><circle cx="296.5" cy="435.3" r="5.8"/><circle cx="290.5" cy="432.3" r="5.8"/><circle cx="289.5" cy="435.9" r="5.8"/></g>
<circle cx="284.5" cy="440.3" r="6.0" fill="#3abb4a"/><circle cx="264.4" cy="445.3" r="6.0" fill="#3abb4a"/><circle cx="259.4" cy="428.3" r="6.0" fill="#3abb4a"/>
<g fill="#d9d4a2"><path d="M242.0,406.4 L242.4,400.4 L243.4,420.3 L242.4,413.4 Z" stroke="#d9d4a2" stroke-width="11.60" stroke-linejoin="round" stroke-linecap="round"/><circle cx="243.4" cy="420.3" r="6.3"/><circle cx="242.4" cy="413.4" r="6.3"/><circle cx="242.0" cy="406.4" r="6.3"/><circle cx="242.4" cy="400.4" r="6.3"/></g>
<g fill="#7d1e82"><path d="M261.4,428.3 L265.4,420.3 L277.5,431.3 L280.5,437.3 L270.5,439.3 L261.4,437.3 Z" stroke="#7d1e82" stroke-width="9.00" stroke-linejoin="round" stroke-linecap="round"/><circle cx="280.5" cy="437.3" r="5.4"/><circle cx="277.5" cy="431.3" r="5.4"/><circle cx="270.5" cy="439.3" r="5.4"/><circle cx="269.5" cy="431.3" r="5.4"/><circle cx="268.5" cy="424.3" r="5.4"/><circle cx="265.4" cy="420.3" r="5.4"/><circle cx="261.4" cy="437.3" r="5.4"/><circle cx="261.4" cy="428.3" r="5.4"/></g>
<g fill="none" stroke="#8a2a8e" stroke-width="1.2"><circle cx="253.4" cy="398.4" r="4.8"/><circle cx="252.0" cy="391.4" r="4.8"/></g>
</g>
<g clip-path="url(#c43)">
<g fill="#3c55b4"><path d="M350.0,436.6 L361.0,435.0 L354.0,437.4 Z" stroke="#3c55b4" stroke-width="11.00" stroke-linejoin="round" stroke-linecap="round"/><circle cx="361.0" cy="435.0" r="5.8"/><circle cx="354.0" cy="437.4" r="5.8"/><circle cx="350.0" cy="436.6" r="5.8"/></g>
<circle cx="334.0" cy="444.0" r="6.0" fill="#3abb4a"/><circle cx="337.6" cy="440.6" r="6.0" fill="#3abb4a"/>
<g fill="#d9d4a2"><path d="M349.0,422.0 L350.0,418.0 L360.0,400.0 Z" stroke="#d9d4a2" stroke-width="13.00" stroke-linejoin="round" stroke-linecap="round"/><circle cx="360.0" cy="400.0" r="7.0"/><circle cx="357.0" cy="406.0" r="7.0"/><circle cx="354.0" cy="412.0" r="7.0"/><circle cx="350.0" cy="418.0" r="7.0"/><circle cx="349.0" cy="422.0" r="7.0"/></g>
<g fill="#7d1e82"><path d="M341.0,439.0 L344.0,435.0 L366.0,421.0 L361.0,425.0 Z" stroke="#7d1e82" stroke-width="11.00" stroke-linejoin="round" stroke-linecap="round"/><circle cx="366.0" cy="421.0" r="6.4"/><circle cx="361.0" cy="425.0" r="6.4"/><circle cx="356.0" cy="428.0" r="6.4"/><circle cx="350.0" cy="432.0" r="6.4"/><circle cx="344.0" cy="435.0" r="6.4"/><circle cx="341.0" cy="439.0" r="6.4"/></g>
<g fill="none" stroke="#8a2a8e" stroke-width="1.2"><circle cx="383.0" cy="397.0" r="4.8"/><circle cx="388.0" cy="392.0" r="4.8"/></g>
</g>
<g clip-path="url(#c45)">
<g fill="#3c55b4"><path d="M557.0,437.0 L559.0,433.0 L564.0,436.0 Z" stroke="#3c55b4" stroke-width="11.00" stroke-linejoin="round" stroke-linecap="round"/><circle cx="559.0" cy="433.0" r="5.8"/><circle cx="564.0" cy="436.0" r="5.8"/><circle cx="557.0" cy="437.0" r="5.8"/></g>
<circle cx="543.0" cy="445.0" r="6.0" fill="#3abb4a"/><circle cx="553.0" cy="442.0" r="6.0" fill="#3abb4a"/><circle cx="533.0" cy="429.0" r="6.0" fill="#3abb4a"/><circle cx="536.0" cy="439.0" r="6.0" fill="#3abb4a"/>
<g fill="#d9d4a2"><path d="M520.0,400.0 L522.0,421.0 L520.6,414.0 L520.0,407.0 Z" stroke="#d9d4a2" stroke-width="11.00" stroke-linejoin="round" stroke-linecap="round"/><circle cx="520.0" cy="400.0" r="6.0"/><circle cx="520.0" cy="407.0" r="6.0"/><circle cx="520.6" cy="414.0" r="6.0"/><circle cx="522.0" cy="421.0" r="6.0"/></g>
<g fill="#7d1e82"><path d="M535.0,431.0 L537.0,421.0 L551.0,436.0 L549.0,439.0 L542.0,439.0 L535.0,435.0 Z" stroke="#7d1e82" stroke-width="9.00" stroke-linejoin="round" stroke-linecap="round"/><circle cx="537.0" cy="421.0" r="5.4"/><circle cx="541.0" cy="427.0" r="5.4"/><circle cx="535.0" cy="431.0" r="5.4"/><circle cx="544.0" cy="433.0" r="5.4"/><circle cx="535.0" cy="435.0" r="5.4"/><circle cx="542.0" cy="439.0" r="5.4"/><circle cx="549.0" cy="439.0" r="5.4"/><circle cx="551.0" cy="436.0" r="5.4"/></g>
<g fill="none" stroke="#8a2a8e" stroke-width="1.2"><circle cx="526.6" cy="392.0" r="4.8"/><circle cx="528.0" cy="398.6" r="4.8"/></g>
</g>
<g clip-path="url(#c46)">
<g fill="#3c55b4"><path d="M630.0,439.0 L634.0,436.0 L637.0,434.0 Z" stroke="#3c55b4" stroke-width="11.00" stroke-linejoin="round" stroke-linecap="round"/><circle cx="634.0" cy="436.0" r="5.8"/><circle cx="637.0" cy="434.0" r="5.8"/><circle cx="630.0" cy="439.0" r="5.8"/></g>
<circle cx="612.4" cy="444.0" r="6.0" fill="#3abb4a"/><circle cx="617.0" cy="440.0" r="6.0" fill="#3abb4a"/>
<g fill="#d9d4a2"><path d="M626.0,421.0 L636.0,400.0 L634.0,405.0 Z" stroke="#d9d4a2" stroke-width="11.60" stroke-linejoin="round" stroke-linecap="round"/><circle cx="636.0" cy="400.0" r="6.3"/><circle cx="634.0" cy="405.0" r="6.3"/><circle cx="631.0" cy="411.0" r="6.3"/><circle cx="628.0" cy="417.0" r="6.3"/><circle cx="626.0" cy="421.0" r="6.3"/></g>
<g fill="#7d1e82"><path d="M619.0,439.0 L623.0,435.0 L628.0,431.0 L642.0,421.0 L638.0,425.0 L621.0,440.0 Z" stroke="#7d1e82" stroke-width="10.80" stroke-linejoin="round" stroke-linecap="round"/><circle cx="642.0" cy="421.0" r="6.3"/><circle cx="638.0" cy="425.0" r="6.3"/><circle cx="633.0" cy="428.0" r="6.3"/><circle cx="628.0" cy="431.0" r="6.3"/><circle cx="623.0" cy="435.0" r="6.3"/><circle cx="619.0" cy="439.0" r="6.3"/><circle cx="621.0" cy="440.0" r="6.3"/></g>
<g fill="none" stroke="#8a2a8e" stroke-width="1.2"><circle cx="657.0" cy="397.0" r="4.8"/><circle cx="661.0" cy="392.0" r="4.8"/></g>
</g>
<g clip-path="url(#c50)">
<g fill="#3c55b4"><path d="M99.4,496.6 L111.4,490.0 L107.0,492.6 L102.0,495.4 Z" stroke="#3c55b4" stroke-width="11.00" stroke-linejoin="round" stroke-linecap="round"/><circle cx="111.4" cy="490.0" r="5.8"/><circle cx="107.0" cy="492.6" r="5.8"/><circle cx="102.0" cy="495.4" r="5.8"/><circle cx="99.4" cy="496.6" r="5.8"/></g>
<circle cx="104.6" cy="502.6" r="6.0" fill="#3abb4a"/><circle cx="92.0" cy="514.6" r="6.0" fill="#3abb4a"/>
<g fill="#d9d4a2"><path d="M59.4,535.0 L63.4,531.0" stroke="#d9d4a2" stroke-width="11.40" stroke-linejoin="round" stroke-linecap="round"/><circle cx="59.4" cy="535.0" r="6.2"/><circle cx="63.4" cy="531.0" r="6.2"/></g>
<g fill="#7d1e82"><path d="M79.0,519.4 L84.0,514.4 L89.0,510.0 L94.0,506.0 L98.6,502.6 Z" stroke="#7d1e82" stroke-width="11.00" stroke-linejoin="round" stroke-linecap="round"/><circle cx="79.0" cy="519.4" r="6.4"/><circle cx="84.0" cy="514.4" r="6.4"/><circle cx="89.0" cy="510.0" r="6.4"/><circle cx="94.0" cy="506.0" r="6.4"/><circle cx="98.6" cy="502.6" r="6.4"/></g>
<g fill="none" stroke="#8a2a8e" stroke-width="1.2"><circle cx="68.6" cy="527.0" r="4.8"/><circle cx="69.0" cy="526.6" r="4.8"/></g>
</g>
<g clip-path="url(#c51)">
<g fill="#3c55b4"><path d="M177.0,493.1 L182.0,490.1 L185.0,495.1 L178.0,498.1 Z" stroke="#3c55b4" stroke-width="11.00" stroke-linejoin="round" stroke-linecap="round"/><circle cx="185.0" cy="495.1" r="5.8"/><circle cx="182.0" cy="490.1" r="5.8"/><circle cx="178.0" cy="498.1" r="5.8"/><circle cx="177.0" cy="493.1" r="5.8"/></g>
<circle cx="147.8" cy="512.1" r="6.0" fill="#3abb4a"/><circle cx="164.9" cy="500.1" r="6.0" fill="#3abb4a"/><circle cx="165.9" cy="522.1" r="6.0" fill="#3abb4a"/><circle cx="154.9" cy="516.1" r="6.0" fill="#3abb4a"/>
<g fill="#d9d4a2"><path d="M148.9,533.7 L153.9,533.1 L161.9,535.2 Z" stroke="#d9d4a2" stroke-width="9.80" stroke-linejoin="round" stroke-linecap="round"/><circle cx="161.9" cy="535.2" r="5.4"/><circle cx="153.9" cy="533.1" r="5.4"/><circle cx="148.9" cy="533.7" r="5.4"/></g>
<g fill="#7d1e82"><path d="M153.9,518.1 L159.9,510.1 L169.0,503.1 L178.0,509.1 L179.0,517.1 L169.0,520.1 L158.9,519.1 Z" stroke="#7d1e82" stroke-width="9.00" stroke-linejoin="round" stroke-linecap="round"/><circle cx="179.0" cy="517.1" r="5.4"/><circle cx="178.0" cy="509.1" r="5.4"/><circle cx="169.0" cy="520.1" r="5.4"/><circle cx="170.0" cy="511.1" r="5.4"/><circle cx="169.0" cy="503.1" r="5.4"/><circle cx="158.9" cy="519.1" r="5.4"/><circle cx="159.9" cy="510.1" r="5.4"/><circle cx="153.9" cy="518.1" r="5.4"/></g>
<g fill="none" stroke="#8a2a8e" stroke-width="1.2"><circle cx="195.1" cy="528.5" r="4.8"/><circle cx="190.7" cy="527.1" r="4.8"/></g>
</g>
<g clip-path="url(#c52)">
<g fill="#3c55b4"><path d="M287.5,498.5 L291.5,495.1 L296.5,491.1 Z" stroke="#3c55b4" stroke-width="11.40" stroke-linejoin="round" stroke-linecap="round"/><circle cx="296.5" cy="491.1" r="6.0"/><circle cx="291.5" cy="495.1" r="6.0"/><circle cx="287.5" cy="498.5" r="6.0"/></g>
<g fill="#3abb4a"><path d="M263.2,511.7 L283.1,501.7 L272.5,518.1 L267.5,519.1 Z" stroke="#3abb4a" stroke-width="9.00" stroke-linejoin="round" stroke-linecap="round"/><circle cx="283.1" cy="501.7" r="5.4"/><circle cx="272.5" cy="518.1" r="5.4"/><circle cx="263.2" cy="511.7" r="5.4"/><circle cx="267.5" cy="519.1" r="5.4"/></g>
<g fill="#d9d4a2"><path d="M242.4,534.1 L245.4,531.1" stroke="#d9d4a2" stroke-width="12.00" stroke-linejoin="round" stroke-linecap="round"/><circle cx="242.4" cy="534.1" r="6.5"/><circle cx="245.4" cy="531.1" r="6.5"/></g>
<g fill="#7d1e82"><path d="M259.4,521.1 L268.5,510.1 L281.5,502.1 L278.5,507.1 L268.5,517.1 L263.4,520.1 Z" stroke="#7d1e82" stroke-width="9.40" stroke-linejoin="round" stroke-linecap="round"/><circle cx="281.5" cy="502.1" r="5.6"/><circle cx="278.5" cy="507.1" r="5.6"/><circle cx="273.5" cy="512.1" r="5.6"/><circle cx="268.5" cy="517.1" r="5.6"/><circle cx="263.4" cy="520.1" r="5.6"/><circle cx="259.4" cy="521.1" r="5.6"/><circle cx="268.5" cy="510.1" r="5.6"/></g>
<g fill="none" stroke="#8a2a8e" stroke-width="1.2"><circle cx="253.4" cy="527.7" r="4.8"/><circle cx="252.0" cy="526.5" r="4.8"/></g>
</g>
<g clip-path="url(#c53)">
<g fill="#3c55b4"><path d="M354.0,490.1 L358.0,491.1 L361.0,496.1 L354.0,497.1 Z" stroke="#3c55b4" stroke-width="11.00" stroke-linejoin="round" stroke-linecap="round"/><circle cx="361.0" cy="496.1" r="5.8"/><circle cx="358.0" cy="491.1" r="5.8"/><circle cx="354.0" cy="497.1" r="5.8"/><circle cx="354.0" cy="490.1" r="5.8"/></g>
<circle cx="333.9" cy="512.1" r="6.0" fill="#3abb4a"/><circle cx="338.9" cy="501.1" r="6.0" fill="#3abb4a"/><circle cx="353.0" cy="522.1" r="6.0" fill="#3abb4a"/><circle cx="335.9" cy="506.1" r="6.0" fill="#3abb4a"/>
<g fill="#d9d4a2"><path d="M348.0,533.1 L361.0,534.5 L354.0,535.2 Z" stroke="#d9d4a2" stroke-width="9.80" stroke-linejoin="round" stroke-linecap="round"/><circle cx="361.0" cy="534.5" r="5.4"/><circle cx="354.0" cy="535.2" r="5.4"/><circle cx="348.0" cy="533.1" r="5.4"/></g>
<g fill="#7d1e82"><path d="M340.9,511.1 L342.9,504.1 L355.0,510.1 L367.0,518.1 L359.0,519.1 L350.0,520.1 L343.9,520.1 Z" stroke="#7d1e82" stroke-width="9.00" stroke-linejoin="round" stroke-linecap="round"/><circle cx="367.0" cy="518.1" r="5.4"/><circle cx="361.0" cy="514.1" r="5.4"/><circle cx="359.0" cy="519.1" r="5.4"/><circle cx="355.0" cy="510.1" r="5.4"/><circle cx="350.0" cy="520.1" r="5.4"/><circle cx="346.9" cy="513.1" r="5.4"/><circle cx="346.9" cy="506.1" r="5.4"/><circle cx="343.9" cy="520.1" r="5.4"/><circle cx="340.9" cy="511.1" r="5.4"/><circle cx="342.9" cy="504.1" r="5.4"/></g>
<g fill="none" stroke="#8a2a8e" stroke-width="1.2"><circle cx="388.1" cy="528.1" r="4.8"/><circle cx="383.5" cy="527.1" r="4.8"/></g>
</g>
<g clip-path="url(#c54)">
<g fill="#3c55b4"><path d="M433.3,498.1 L434.3,491.1 L437.3,496.1 Z" stroke="#3c55b4" stroke-width="11.00" stroke-linejoin="round" stroke-linecap="round"/><circle cx="437.3" cy="496.1" r="5.8"/><circle cx="434.3" cy="491.1" r="5.8"/><circle cx="433.3" cy="498.1" r="5.8"/></g>
<circle cx="425.3" cy="512.1" r="6.0" fill="#3abb4a"/><circle cx="428.3" cy="502.1" r="6.0" fill="#3abb4a"/><circle cx="441.3" cy="522.1" r="6.0" fill="#3abb4a"/><circle cx="431.3" cy="519.1" r="6.0" fill="#3abb4a"/>
<g fill="#d9d4a2"><path d="M449.3,533.1 L470.4,535.2 L463.4,535.2 L456.4,534.5 Z" stroke="#d9d4a2" stroke-width="11.00" stroke-linejoin="round" stroke-linecap="round"/><circle cx="470.4" cy="535.2" r="6.0"/><circle cx="463.4" cy="535.2" r="6.0"/><circle cx="456.4" cy="534.5" r="6.0"/><circle cx="449.3" cy="533.1" r="6.0"/></g>
<g fill="#7d1e82"><path d="M431.3,506.1 L434.3,504.1 L449.3,518.1 L439.3,520.1 L435.3,520.1 L431.3,513.1 Z" stroke="#7d1e82" stroke-width="9.00" stroke-linejoin="round" stroke-linecap="round"/><circle cx="449.3" cy="518.1" r="5.4"/><circle cx="443.3" cy="514.1" r="5.4"/><circle cx="439.3" cy="520.1" r="5.4"/><circle cx="437.3" cy="511.1" r="5.4"/><circle cx="435.3" cy="520.1" r="5.4"/><circle cx="431.3" cy="513.1" r="5.4"/><circle cx="431.3" cy="506.1" r="5.4"/><circle cx="434.3" cy="504.1" r="5.4"/></g>
<g fill="none" stroke="#8a2a8e" stroke-width="1.2"><circle cx="478.4" cy="528.5" r="4.8"/><circle cx="471.8" cy="527.1" r="4.8"/></g>
</g>
<g clip-path="url(#c56)">
<g fill="#3c55b4"><path d="M630.0,497.0 L631.0,490.6 L635.0,496.0 Z" stroke="#3c55b4" stroke-width="11.00" stroke-linejoin="round" stroke-linecap="round"/><circle cx="631.0" cy="490.6" r="5.8"/><circle cx="635.0" cy="496.0" r="5.8"/><circle cx="630.0" cy="497.0" r="5.8"/></g>
<circle cx="612.0" cy="512.0" r="6.0" fill="#3abb4a"/><circle cx="618.0" cy="501.0" r="6.0" fill="#3abb4a"/><circle cx="631.0" cy="524.0" r="6.0" fill="#3abb4a"/>
<g fill="#d9d4a2"><path d="M627.0,533.0 L634.0,532.0 L637.0,536.0 L630.0,536.6 Z" stroke="#d9d4a2" stroke-width="9.80" stroke-linejoin="round" stroke-linecap="round"/><circle cx="627.0" cy="533.0" r="5.4"/><circle cx="634.0" cy="532.0" r="5.4"/><circle cx="637.0" cy="536.0" r="5.4"/><circle cx="630.0" cy="536.6" r="5.4"/></g>
<g fill="#7d1e82"><path d="M620.0,514.0 L622.0,506.0 L630.0,506.0 L642.0,517.0 L641.0,519.0 L634.0,520.0 L624.0,520.0 Z" stroke="#7d1e82" stroke-width="9.00" stroke-linejoin="round" stroke-linecap="round"/><circle cx="622.0" cy="506.0" r="5.4"/><circle cx="630.0" cy="506.0" r="5.4"/><circle cx="620.0" cy="514.0" r="5.4"/><circle cx="628.0" cy="513.0" r="5.4"/><circle cx="636.0" cy="513.0" r="5.4"/><circle cx="642.0" cy="517.0" r="5.4"/><circle cx="624.0" cy="520.0" r="5.4"/><circle cx="634.0" cy="520.0" r="5.4"/><circle cx="641.0" cy="519.0" r="5.4"/></g>
<g fill="none" stroke="#8a2a8e" stroke-width="1.2"><circle cx="657.6" cy="527.0" r="4.8"/><circle cx="662.0" cy="528.0" r="4.8"/></g>
</g>
<g clip-path="url(#c60)">
<g fill="#3c55b4"><path d="M100.5,603.4 L105.5,604.4 L110.9,608.4 L106.5,609.0 Z" stroke="#3c55b4" stroke-width="11.00" stroke-linejoin="round" stroke-linecap="round"/><circle cx="110.9" cy="608.4" r="5.8"/><circle cx="105.5" cy="604.4" r="5.8"/><circle cx="100.5" cy="603.4" r="5.8"/><circle cx="106.5" cy="609.0" r="5.8"/></g>
<circle cx="104.5" cy="620.3" r="6.0" fill="#3abb4a"/><circle cx="89.6" cy="627.2" r="6.0" fill="#3abb4a"/><circle cx="75.6" cy="609.4" r="6.0" fill="#3abb4a"/><circle cx="90.6" cy="599.4" r="6.0" fill="#3abb4a"/>
<g fill="#d9d4a2"><path d="M60.2,610.4 L61.0,602.4 L64.2,607.4 L62.6,613.3 Z" stroke="#d9d4a2" stroke-width="9.80" stroke-linejoin="round" stroke-linecap="round"/><circle cx="62.6" cy="613.3" r="5.4"/><circle cx="64.2" cy="607.4" r="5.4"/><circle cx="61.0" cy="602.4" r="5.4"/><circle cx="60.2" cy="610.4" r="5.4"/></g>
<g fill="#7d1e82"><path d="M79.0,617.3 L79.6,598.4 L84.6,597.4 L97.5,609.4 L96.5,617.3 L87.6,620.3 Z" stroke="#7d1e82" stroke-width="9.00" stroke-linejoin="round" stroke-linecap="round"/><circle cx="96.5" cy="617.3" r="5.4"/><circle cx="97.5" cy="609.4" r="5.4"/><circle cx="87.6" cy="620.3" r="5.4"/><circle cx="89.6" cy="612.3" r="5.4"/><circle cx="87.6" cy="605.4" r="5.4"/><circle cx="79.0" cy="617.3" r="5.4"/><circle cx="81.0" cy="609.4" r="5.4"/><circle cx="79.6" cy="598.4" r="5.4"/><circle cx="84.6" cy="597.4" r="5.4"/></g>
<g fill="none" stroke="#8a2a8e" stroke-width="1.2"><circle cx="69.0" cy="581.9" r="4.8"/><circle cx="68.2" cy="577.6" r="4.8"/></g>
</g>
<g clip-path="url(#c61)">
<g fill="#3c55b4"><path d="M180.0,610.4 L184.0,602.4 L185.0,607.4 Z" stroke="#3c55b4" stroke-width="11.00" stroke-linejoin="round" stroke-linecap="round"/><circle cx="185.0" cy="607.4" r="5.8"/><circle cx="180.0" cy="610.4" r="5.8"/><circle cx="184.0" cy="602.4" r="5.8"/></g>
<circle cx="148.9" cy="626.3" r="6.0" fill="#3abb4a"/><circle cx="154.9" cy="622.3" r="6.0" fill="#3abb4a"/><circle cx="165.9" cy="621.3" r="6.0" fill="#3abb4a"/>
<g fill="#d9d4a2"><path d="M148.9,613.3 L153.9,608.4 L159.9,603.4 L162.9,601.4 Z" stroke="#d9d4a2" stroke-width="9.80" stroke-linejoin="round" stroke-linecap="round"/><circle cx="148.9" cy="613.3" r="5.4"/><circle cx="153.9" cy="608.4" r="5.4"/><circle cx="159.9" cy="603.4" r="5.4"/><circle cx="162.9" cy="601.4" r="5.4"/></g>
<g fill="#7d1e82"><path d="M160.5,619.3 L163.9,611.4 L179.4,598.4 L178.0,602.4 L170.0,612.3 L165.3,616.9 Z" stroke="#7d1e82" stroke-width="12.60" stroke-linejoin="round" stroke-linecap="round"/><circle cx="179.4" cy="598.4" r="7.2"/><circle cx="178.0" cy="602.4" r="7.2"/><circle cx="174.0" cy="607.4" r="7.2"/><circle cx="170.0" cy="612.3" r="7.2"/><circle cx="165.3" cy="616.9" r="7.2"/><circle cx="160.5" cy="619.3" r="7.2"/><circle cx="163.9" cy="611.4" r="7.2"/></g>
<g fill="none" stroke="#8a2a8e" stroke-width="1.2"><circle cx="191.5" cy="581.9" r="4.8"/><circle cx="195.1" cy="578.6" r="4.8"/></g>
</g>
<g clip-path="url(#c62)">
<g fill="#3c55b4"><path d="M287.5,605.4 L291.5,604.4 L296.5,608.4 L291.5,609.8 Z" stroke="#3c55b4" stroke-width="11.00" stroke-linejoin="round" stroke-linecap="round"/><circle cx="296.5" cy="608.4" r="5.8"/><circle cx="291.5" cy="604.4" r="5.8"/><circle cx="287.5" cy="605.4" r="5.8"/><circle cx="291.5" cy="609.8" r="5.8"/></g>
<circle cx="284.5" cy="620.3" r="6.0" fill="#3abb4a"/><circle cx="264.4" cy="627.2" r="6.0" fill="#3abb4a"/><circle cx="259.4" cy="609.4" r="6.0" fill="#3abb4a"/><circle cx="274.5" cy="599.4" r="6.0" fill="#3abb4a"/>
<g fill="#d9d4a2"><path d="M240.4,610.4 L241.4,602.4 L245.4,606.4 L244.4,612.3 Z" stroke="#d9d4a2" stroke-width="9.80" stroke-linejoin="round" stroke-linecap="round"/><circle cx="244.4" cy="612.3" r="5.4"/><circle cx="245.4" cy="606.4" r="5.4"/><circle cx="241.4" cy="602.4" r="5.4"/><circle cx="240.4" cy="610.4" r="5.4"/></g>
<g fill="#7d1e82"><path d="M261.4,617.3 L263.4,598.4 L266.5,597.4 L280.5,607.4 L280.5,616.3 L270.5,619.3 Z" stroke="#7d1e82" stroke-width="9.00" stroke-linejoin="round" stroke-linecap="round"/><circle cx="280.5" cy="616.3" r="5.4"/><circle cx="280.5" cy="607.4" r="5.4"/><circle cx="270.5" cy="619.3" r="5.4"/><circle cx="271.5" cy="611.4" r="5.4"/><circle cx="270.5" cy="603.4" r="5.4"/><circle cx="266.5" cy="597.4" r="5.4"/><circle cx="261.4" cy="617.3" r="5.4"/><circle cx="262.4" cy="608.4" r="5.4"/><circle cx="263.4" cy="598.4" r="5.4"/></g>
<g fill="none" stroke="#8a2a8e" stroke-width="1.2"><circle cx="253.4" cy="581.9" r="4.8"/><circle cx="252.0" cy="577.6" r="4.8"/></g>
</g>
<g clip-path="url(#c63)">
<circle cx="361.0" cy="606.4" r="5.8" fill="#3c55b4"/>
<circle cx="334.5" cy="626.8" r="6.0" fill="#3abb4a"/><circle cx="338.9" cy="622.3" r="6.0" fill="#3abb4a"/>
<g fill="#7d1e82"><path d="M338.9,622.3 L367.0,597.4 L352.0,612.3 L346.9,617.3 L341.9,621.3 Z" stroke="#7d1e82" stroke-width="10.80" stroke-linejoin="round" stroke-linecap="round"/><circle cx="367.0" cy="597.4" r="6.3"/><circle cx="362.0" cy="602.4" r="6.3"/><circle cx="357.0" cy="607.4" r="6.3"/><circle cx="352.0" cy="612.3" r="6.3"/><circle cx="346.9" cy="617.3" r="6.3"/><circle cx="341.9" cy="621.3" r="6.3"/><circle cx="338.9" cy="622.3" r="6.3"/></g>
<g fill="none" stroke="#8a2a8e" stroke-width="1.2"><circle cx="384.1" cy="581.9" r="4.8"/><circle cx="387.5" cy="578.6" r="4.8"/></g>
</g>
<g clip-path="url(#c64)">
<g fill="#3c55b4"><path d="M431.3,609.4 L436.3,602.4 L434.3,605.4 Z" stroke="#3c55b4" stroke-width="11.00" stroke-linejoin="round" stroke-linecap="round"/><circle cx="434.3" cy="605.4" r="5.8"/><circle cx="436.3" cy="602.4" r="5.8"/><circle cx="431.3" cy="609.4" r="5.8"/></g>
<circle cx="426.3" cy="626.8" r="6.0" fill="#3abb4a"/><circle cx="430.3" cy="622.3" r="6.0" fill="#3abb4a"/>
<g fill="#d9d4a2"><path d="M449.3,613.3 L453.4,611.4 L459.4,608.4 L465.4,605.4 L470.4,603.4 Z" stroke="#d9d4a2" stroke-width="11.60" stroke-linejoin="round" stroke-linecap="round"/><circle cx="470.4" cy="603.4" r="6.3"/><circle cx="465.4" cy="605.4" r="6.3"/><circle cx="459.4" cy="608.4" r="6.3"/><circle cx="453.4" cy="611.4" r="6.3"/><circle cx="449.3" cy="613.3" r="6.3"/></g>
<g fill="#7d1e82"><path d="M430.3,618.3 L445.3,601.4 L449.3,597.4 L439.3,611.4 L435.3,616.3 L431.3,620.3 Z" stroke="#7d1e82" stroke-width="10.80" stroke-linejoin="round" stroke-linecap="round"/><circle cx="449.3" cy="597.4" r="6.3"/><circle cx="445.3" cy="601.4" r="6.3"/><circle cx="442.3" cy="606.4" r="6.3"/><circle cx="439.3" cy="611.4" r="6.3"/><circle cx="435.3" cy="616.3" r="6.3"/><circle cx="431.3" cy="620.3" r="6.3"/><circle cx="430.3" cy="618.3" r="6.3"/></g>
<g fill="none" stroke="#8a2a8e" stroke-width="1.2"><circle cx="473.4" cy="582.5" r="4.8"/><circle cx="478.4" cy="578.6" r="4.8"/></g>
</g>
<g clip-path="url(#c65)">
<g fill="#3c55b4"><path d="M558.1,609.4 L559.1,604.4 L564.5,608.4 Z" stroke="#3c55b4" stroke-width="11.00" stroke-linejoin="round" stroke-linecap="round"/><circle cx="564.5" cy="608.4" r="5.8"/><circle cx="559.1" cy="604.4" r="5.8"/><circle cx="558.1" cy="609.4" r="5.8"/></g>
<circle cx="543.1" cy="627.2" r="6.0" fill="#3abb4a"/><circle cx="554.1" cy="621.3" r="6.0" fill="#3abb4a"/><circle cx="531.1" cy="608.4" r="6.0" fill="#3abb4a"/>
<g fill="#d9d4a2"><path d="M518.6,609.4 L519.2,602.4 L523.1,605.4 L522.1,612.3 Z" stroke="#d9d4a2" stroke-width="9.80" stroke-linejoin="round" stroke-linecap="round"/><circle cx="522.1" cy="612.3" r="5.4"/><circle cx="523.1" cy="605.4" r="5.4"/><circle cx="519.2" cy="602.4" r="5.4"/><circle cx="518.6" cy="609.4" r="5.4"/></g>
<g fill="#7d1e82"><path d="M535.1,605.4 L536.1,598.4 L538.1,597.4 L549.1,609.4 L549.1,617.3 L541.1,619.3 L535.1,615.3 Z" stroke="#7d1e82" stroke-width="9.00" stroke-linejoin="round" stroke-linecap="round"/><circle cx="549.1" cy="617.3" r="5.4"/><circle cx="549.1" cy="609.4" r="5.4"/><circle cx="541.1" cy="619.3" r="5.4"/><circle cx="542.1" cy="611.4" r="5.4"/><circle cx="542.1" cy="603.4" r="5.4"/><circle cx="538.1" cy="597.4" r="5.4"/><circle cx="535.1" cy="615.3" r="5.4"/><circle cx="535.1" cy="605.4" r="5.4"/><circle cx="536.1" cy="598.4" r="5.4"/></g>
<g fill="none" stroke="#8a2a8e" stroke-width="1.2"><circle cx="528.1" cy="581.9" r="4.8"/><circle cx="527.1" cy="577.6" r="4.8"/></g>
</g>
<line x1="35.5" y1="3.5999999999999996" x2="35.5" y2="651.0500000000001" stroke="#111" stroke-width="2.0"/>
<line x1="127.65" y1="3.5999999999999996" x2="127.65" y2="651.0500000000001" stroke="#111" stroke-width="2.7"/>
<line x1="220.0" y1="3.5999999999999996" x2="220.0" y2="651.0500000000001" stroke="#111" stroke-width="2.3"/>
<line x1="312.4" y1="3.5999999999999996" x2="312.4" y2="651.0500000000001" stroke="#111" stroke-width="3.0"/>
<line x1="404.8" y1="3.5999999999999996" x2="404.8" y2="651.0500000000001" stroke="#111" stroke-width="2.3"/>
<line x1="497.0" y1="3.5999999999999996" x2="497.0" y2="651.0500000000001" stroke="#111" stroke-width="2.6"/>
<line x1="589.5" y1="3.5999999999999996" x2="589.5" y2="651.0500000000001" stroke="#111" stroke-width="3.0"/>
<line x1="681.5" y1="3.5999999999999996" x2="681.5" y2="651.0500000000001" stroke="#111" stroke-width="2.2"/>
<line x1="34.5" y1="4.8" x2="682.6" y2="4.8" stroke="#111" stroke-width="2.4"/>
<line x1="34.5" y1="97.2" x2="682.6" y2="97.2" stroke="#111" stroke-width="2.9"/>
<line x1="34.5" y1="189.1" x2="682.6" y2="189.1" stroke="#111" stroke-width="2.0"/>
<line x1="34.5" y1="281.4" x2="682.6" y2="281.4" stroke="#111" stroke-width="2.9"/>
<line x1="34.5" y1="373.4" x2="682.6" y2="373.4" stroke="#111" stroke-width="1.7"/>
<line x1="34.5" y1="465.5" x2="682.6" y2="465.5" stroke="#111" stroke-width="2.8"/>
<line x1="34.5" y1="558.2" x2="682.6" y2="558.2" stroke="#111" stroke-width="2.9"/>
<line x1="34.5" y1="649.6" x2="682.6" y2="649.6" stroke="#111" stroke-width="2.9"/>
<text font-family="Liberation Serif" font-weight="bold" font-size="100" fill="#000" stroke="#000" stroke-width="2.127" stroke-linejoin="round" transform="translate(82.29,671.81) scale(0.2343,0.1888)">μ</text>
<text font-family="Liberation Serif" font-weight="bold" font-size="100" fill="#000" stroke="#000" stroke-width="2.094" stroke-linejoin="round" transform="translate(165.07,675.48) scale(0.1767,0.2531)">K</text>
<text font-family="Liberation Serif" font-weight="bold" font-size="100" fill="#000" stroke="#000" stroke-width="1.892" stroke-linejoin="round" transform="translate(257.88,675.48) scale(0.2225,0.2531)">E</text>
<text font-family="Liberation Serif" font-weight="bold" font-size="100" fill="#000" stroke="#000" stroke-width="1.814" stroke-linejoin="round" transform="translate(323.76,673.07) scale(0.2698,0.2264)">λ</text>
<text font-family="Liberation Serif" font-size="100" fill="#000" transform="translate(345.28,679.94) scale(0.4650,0.3951)">×</text>
<text font-family="Liberation Serif" font-weight="bold" font-size="100" fill="#000" stroke="#000" stroke-width="1.934" stroke-linejoin="round" transform="translate(377.06,672.14) scale(0.2779,0.1875)">ρ</text>
<text font-family="Liberation Serif" font-style="italic" font-size="100" fill="#000" transform="translate(418.36,673.16) scale(0.2273,0.2439)">V</text>
<text font-family="Liberation Serif" font-style="italic" font-size="100" fill="#000" transform="translate(431.97,677.09) scale(0.2623,0.1721)">p</text>
<text font-family="Liberation Serif" font-size="100" fill="#000" transform="translate(447.00,677.40) scale(0.3464,0.3045)">/</text>
<text font-family="Liberation Serif" font-style="italic" font-size="100" fill="#000" transform="translate(459.02,673.16) scale(0.2758,0.2439)">V</text>
<text font-family="Liberation Serif" font-style="italic" font-size="100" fill="#000" transform="translate(472.51,676.80) scale(0.2914,0.1979)">s</text>
<text font-family="Liberation Serif" font-weight="bold" font-size="100" fill="#000" stroke="#000" stroke-width="2.078" stroke-linejoin="round" transform="translate(510.29,671.62) scale(0.2398,0.1933)">μ</text>
<text font-family="Liberation Serif" font-size="100" fill="#000" transform="translate(531.06,680.00) scale(0.4675,0.4000)">×</text>
<text font-family="Liberation Serif" font-weight="bold" font-size="100" fill="#000" stroke="#000" stroke-width="1.931" stroke-linejoin="round" transform="translate(562.57,672.28) scale(0.2756,0.1904)">ρ</text>
<text font-family="Liberation Serif" font-weight="bold" font-size="100" fill="#000" stroke="#000" stroke-width="1.769" stroke-linejoin="round" transform="translate(635.15,673.27) scale(0.2781,0.2307)">λ</text>
<text font-family="Liberation Serif" font-weight="bold" font-size="100" fill="#000" stroke="#000" stroke-width="2.198" stroke-linejoin="round" transform="translate(19.99,48.69) rotate(-90) scale(0.2102,0.1993)">μ</text>
<text font-family="Liberation Serif" font-weight="bold" font-size="100" fill="#000" stroke="#000" stroke-width="2.055" stroke-linejoin="round" transform="translate(24.17,150.32) rotate(-90) scale(0.1727,0.2654)">K</text>
<text font-family="Liberation Serif" font-weight="bold" font-size="100" fill="#000" stroke="#000" stroke-width="1.980" stroke-linejoin="round" transform="translate(24.17,239.95) rotate(-90) scale(0.1892,0.2654)">E</text>
<text font-family="Liberation Serif" font-weight="bold" font-size="100" fill="#000" stroke="#000" stroke-width="1.832" stroke-linejoin="round" transform="translate(21.38,359.34) rotate(-90) scale(0.2635,0.2279)">λ</text>
<text font-family="Liberation Serif" font-size="100" fill="#000" transform="translate(28.20,338.40) rotate(-90) scale(0.4250,0.4000)">×</text>
<text font-family="Liberation Serif" font-weight="bold" font-size="100" fill="#000" stroke="#000" stroke-width="2.093" stroke-linejoin="round" transform="translate(20.55,307.38) rotate(-90) scale(0.2337,0.1963)">ρ</text>
<text font-family="Liberation Serif" font-style="italic" font-size="100" fill="#000" transform="translate(20.96,450.64) rotate(-90) scale(0.2682,0.2409)">V</text>
<text font-family="Liberation Serif" font-style="italic" font-size="100" fill="#000" transform="translate(25.63,435.72) rotate(-90) scale(0.2132,0.1559)">p</text>
<text font-family="Liberation Serif" font-size="100" fill="#000" transform="translate(25.10,421.00) rotate(-90) scale(0.4643,0.3000)">/</text>
<text font-family="Liberation Serif" font-style="italic" font-size="100" fill="#000" transform="translate(20.96,405.84) rotate(-90) scale(0.2682,0.2409)">V</text>
<text font-family="Liberation Serif" font-style="italic" font-size="100" fill="#000" transform="translate(25.24,394.75) rotate(-90) scale(0.2543,0.1604)">s</text>
<text font-family="Liberation Serif" font-weight="bold" font-size="100" fill="#000" stroke="#000" stroke-width="2.226" stroke-linejoin="round" transform="translate(20.27,538.97) rotate(-90) scale(0.1991,0.2052)">μ</text>
<text font-family="Liberation Serif" font-size="100" fill="#000" transform="translate(28.23,519.30) rotate(-90) scale(0.4125,0.4024)">×</text>
<text font-family="Liberation Serif" font-weight="bold" font-size="100" fill="#000" stroke="#000" stroke-width="2.166" stroke-linejoin="round" transform="translate(20.51,488.81) rotate(-90) scale(0.2221,0.1934)">ρ</text>
<text font-family="Liberation Serif" font-weight="bold" font-size="100" fill="#000" stroke="#000" stroke-width="1.860" stroke-linejoin="round" transform="translate(21.47,600.73) rotate(-90) scale(0.2531,0.2307)">λ</text>
<text font-family="Liberation Mono" font-size="100" fill="#111" transform="translate(61.26,737.90) scale(0.1912,0.2208)" xml:space="preserve">fluid</text>
<text font-family="Liberation Mono" font-size="100" fill="#111" transform="translate(177.89,714.80) scale(0.1734,0.1833)" xml:space="preserve">dry</text>
<text font-family="Liberation Mono" font-size="100" fill="#111" transform="translate(212.26,714.80) scale(0.1723,0.1833)" xml:space="preserve">layer</text>
<text font-family="Liberation Mono" font-size="100" fill="#111" transform="translate(177.70,755.80) scale(0.1715,0.1750)" xml:space="preserve">gas</text>
<text font-family="Liberation Mono" font-size="100" fill="#111" transform="translate(212.89,755.80) scale(0.1701,0.1750)" xml:space="preserve">layer</text>
<text font-family="Liberation Mono" font-size="100" fill="#111" transform="translate(334.09,714.50) scale(0.1724,0.1792)" xml:space="preserve">gas-bearing</text>
<text font-family="Liberation Mono" font-size="100" fill="#111" transform="translate(452.03,714.50) scale(0.1721,0.1792)" xml:space="preserve">water</text>
<text font-family="Liberation Mono" font-size="100" fill="#111" transform="translate(335.23,755.60) scale(0.1704,0.1764)" xml:space="preserve">water-bearing</text>
<text font-family="Liberation Mono" font-size="100" fill="#111" transform="translate(471.40,755.60) scale(0.1709,0.1764)" xml:space="preserve">gas</text>
<circle cx="166.4" cy="708" r="6.8" fill="none" stroke="#8a8fcc" stroke-width="1.4"/>
<circle cx="166.0" cy="748.4" r="6.8" fill="none" stroke="#7cc67c" stroke-width="1.4"/>
<circle cx="323.0" cy="707.4" r="6.8" fill="none" stroke="#dcdac4" stroke-width="1.4"/>
<circle cx="323.0" cy="749.5" r="6.8" fill="none" stroke="#a678a6" stroke-width="1.4"/></g></svg>
</body></html>
